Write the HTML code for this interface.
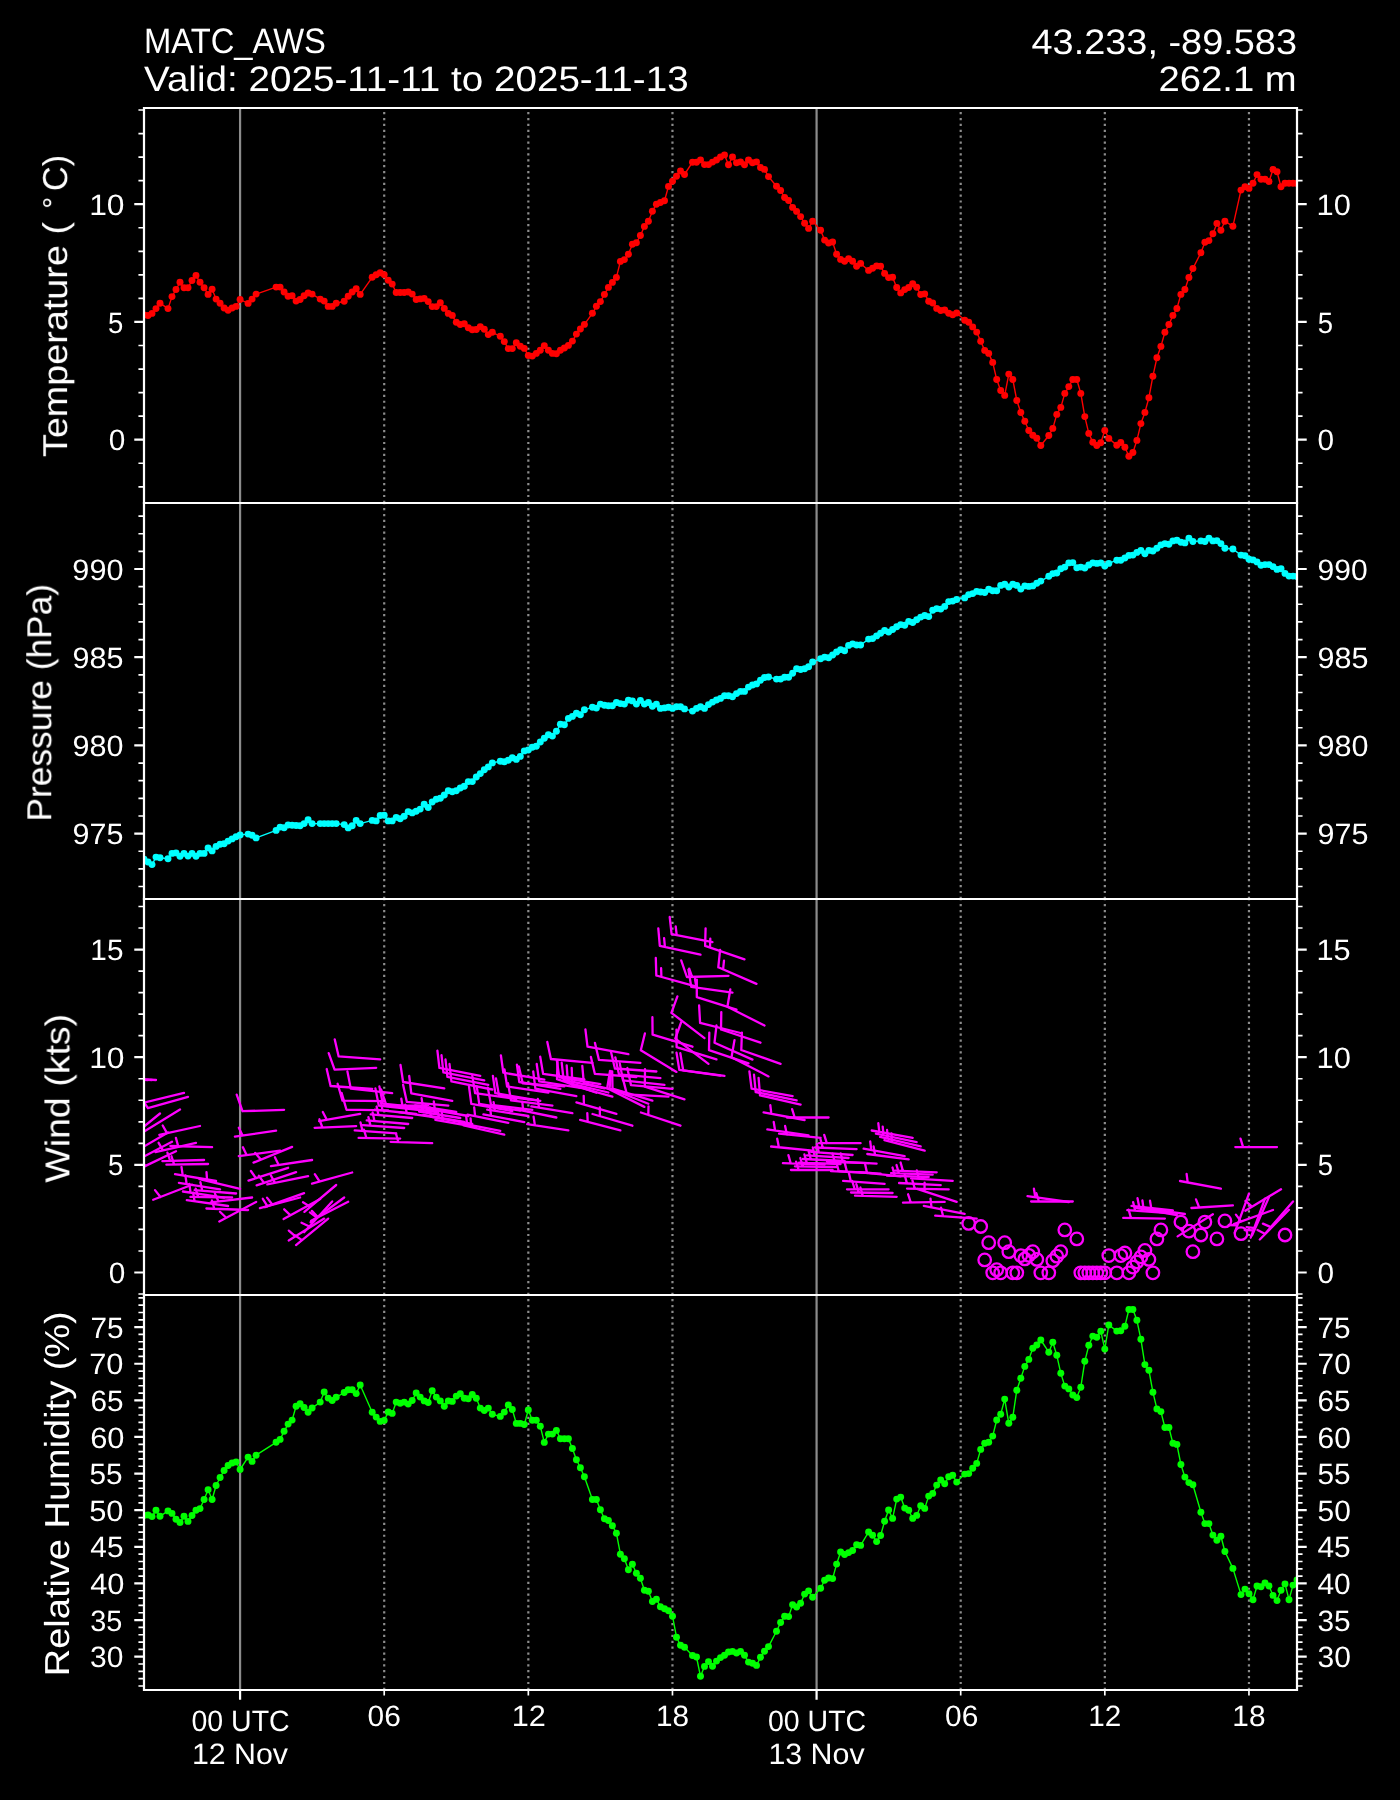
<!DOCTYPE html><html><head><meta charset="utf-8"><title>MATC_AWS meteogram</title><style>html,body{margin:0;padding:0;background:#000;width:1400px;height:1800px;overflow:hidden}svg{display:block}text{text-rendering:geometricPrecision}</style></head><body><svg width="1400" height="1800" viewBox="0 0 1400 1800">
<rect width="1400" height="1800" fill="#000"/>
<defs>
<clipPath id="c0"><rect x="144.0" y="108" width="1153.0" height="395"/></clipPath>
<clipPath id="c1"><rect x="144.0" y="503" width="1153.0" height="396"/></clipPath>
<clipPath id="c2"><rect x="144.0" y="899" width="1153.0" height="396"/></clipPath>
<clipPath id="c3"><rect x="144.0" y="1295" width="1153.0" height="395"/></clipPath>
</defs>
<g><line x1="240.08" y1="503" x2="240.08" y2="108" stroke="#8c8c8c" stroke-width="2.2"/><line x1="816.58" y1="503" x2="816.58" y2="108" stroke="#8c8c8c" stroke-width="2.2"/><line x1="384.21" y1="503" x2="384.21" y2="108" stroke="#8c8c8c" stroke-width="2.2" stroke-dasharray="2.22 3.67"/><line x1="528.33" y1="503" x2="528.33" y2="108" stroke="#8c8c8c" stroke-width="2.2" stroke-dasharray="2.22 3.67"/><line x1="672.46" y1="503" x2="672.46" y2="108" stroke="#8c8c8c" stroke-width="2.2" stroke-dasharray="2.22 3.67"/><line x1="960.71" y1="503" x2="960.71" y2="108" stroke="#8c8c8c" stroke-width="2.2" stroke-dasharray="2.22 3.67"/><line x1="1104.83" y1="503" x2="1104.83" y2="108" stroke="#8c8c8c" stroke-width="2.2" stroke-dasharray="2.22 3.67"/><line x1="1248.96" y1="503" x2="1248.96" y2="108" stroke="#8c8c8c" stroke-width="2.2" stroke-dasharray="2.22 3.67"/></g>
<g><line x1="240.08" y1="899" x2="240.08" y2="503" stroke="#8c8c8c" stroke-width="2.2"/><line x1="816.58" y1="899" x2="816.58" y2="503" stroke="#8c8c8c" stroke-width="2.2"/><line x1="384.21" y1="899" x2="384.21" y2="503" stroke="#8c8c8c" stroke-width="2.2" stroke-dasharray="2.22 3.67"/><line x1="528.33" y1="899" x2="528.33" y2="503" stroke="#8c8c8c" stroke-width="2.2" stroke-dasharray="2.22 3.67"/><line x1="672.46" y1="899" x2="672.46" y2="503" stroke="#8c8c8c" stroke-width="2.2" stroke-dasharray="2.22 3.67"/><line x1="960.71" y1="899" x2="960.71" y2="503" stroke="#8c8c8c" stroke-width="2.2" stroke-dasharray="2.22 3.67"/><line x1="1104.83" y1="899" x2="1104.83" y2="503" stroke="#8c8c8c" stroke-width="2.2" stroke-dasharray="2.22 3.67"/><line x1="1248.96" y1="899" x2="1248.96" y2="503" stroke="#8c8c8c" stroke-width="2.2" stroke-dasharray="2.22 3.67"/></g>
<g><line x1="240.08" y1="1295" x2="240.08" y2="899" stroke="#8c8c8c" stroke-width="2.2"/><line x1="816.58" y1="1295" x2="816.58" y2="899" stroke="#8c8c8c" stroke-width="2.2"/><line x1="384.21" y1="1295" x2="384.21" y2="899" stroke="#8c8c8c" stroke-width="2.2" stroke-dasharray="2.22 3.67"/><line x1="528.33" y1="1295" x2="528.33" y2="899" stroke="#8c8c8c" stroke-width="2.2" stroke-dasharray="2.22 3.67"/><line x1="672.46" y1="1295" x2="672.46" y2="899" stroke="#8c8c8c" stroke-width="2.2" stroke-dasharray="2.22 3.67"/><line x1="960.71" y1="1295" x2="960.71" y2="899" stroke="#8c8c8c" stroke-width="2.2" stroke-dasharray="2.22 3.67"/><line x1="1104.83" y1="1295" x2="1104.83" y2="899" stroke="#8c8c8c" stroke-width="2.2" stroke-dasharray="2.22 3.67"/><line x1="1248.96" y1="1295" x2="1248.96" y2="899" stroke="#8c8c8c" stroke-width="2.2" stroke-dasharray="2.22 3.67"/></g>
<g><line x1="240.08" y1="1690" x2="240.08" y2="1295" stroke="#8c8c8c" stroke-width="2.2"/><line x1="816.58" y1="1690" x2="816.58" y2="1295" stroke="#8c8c8c" stroke-width="2.2"/><line x1="384.21" y1="1690" x2="384.21" y2="1295" stroke="#8c8c8c" stroke-width="2.2" stroke-dasharray="2.22 3.67"/><line x1="528.33" y1="1690" x2="528.33" y2="1295" stroke="#8c8c8c" stroke-width="2.2" stroke-dasharray="2.22 3.67"/><line x1="672.46" y1="1690" x2="672.46" y2="1295" stroke="#8c8c8c" stroke-width="2.2" stroke-dasharray="2.22 3.67"/><line x1="960.71" y1="1690" x2="960.71" y2="1295" stroke="#8c8c8c" stroke-width="2.2" stroke-dasharray="2.22 3.67"/><line x1="1104.83" y1="1690" x2="1104.83" y2="1295" stroke="#8c8c8c" stroke-width="2.2" stroke-dasharray="2.22 3.67"/><line x1="1248.96" y1="1690" x2="1248.96" y2="1295" stroke="#8c8c8c" stroke-width="2.2" stroke-dasharray="2.22 3.67"/></g>
<g clip-path="url(#c0)">
<path d="M144.0 315.0 L148.0 315.5 L152.0 313.4 L156.0 308.6 L160.0 303.2 L168.0 308.6 L172.0 296.6 L176.0 289.5 L180.0 282.3 L184.0 287.7 L188.0 287.7 L192.0 280.5 L196.0 275.4 L200.0 282.3 L204.1 287.7 L208.1 294.4 L212.1 289.3 L216.1 299.1 L220.1 303.2 L224.1 308.0 L228.1 310.2 L232.1 308.0 L236.1 306.4 L240.1 299.5 L248.1 303.4 L252.1 299.1 L256.1 294.1 L276.1 287.1 L280.1 287.1 L284.1 292.0 L288.1 296.3 L292.1 295.7 L296.1 301.1 L300.1 299.5 L304.1 295.7 L308.1 293.0 L312.1 294.1 L320.2 299.1 L324.2 301.1 L328.2 306.4 L332.2 306.4 L336.2 303.2 L344.2 301.3 L348.2 296.3 L352.2 292.0 L356.2 288.8 L360.2 294.4 L372.2 277.3 L376.2 274.8 L380.2 272.7 L384.2 274.8 L388.2 280.2 L392.2 284.1 L396.2 292.5 L400.2 292.5 L404.2 292.5 L408.2 292.0 L412.2 294.1 L416.2 299.5 L420.2 298.9 L424.2 298.4 L428.2 301.6 L432.2 306.6 L436.3 306.6 L440.3 302.7 L444.3 308.4 L448.3 313.4 L452.3 315.4 L456.3 322.3 L460.3 324.5 L464.3 323.7 L468.3 327.7 L472.3 329.8 L476.3 329.5 L480.3 326.6 L484.3 329.3 L488.3 334.6 L492.3 332.3 L500.3 336.3 L504.3 341.6 L508.3 348.6 L512.3 348.6 L516.3 342.7 L520.3 346.2 L524.3 348.4 L528.3 355.5 L532.3 356.1 L536.3 353.4 L540.3 350.2 L544.3 345.6 L548.4 350.2 L552.4 353.4 L556.4 353.7 L560.4 350.2 L564.4 348.0 L568.4 345.4 L572.4 341.1 L576.4 334.1 L580.4 329.0 L584.4 324.4 L592.4 313.3 L596.4 306.3 L600.4 301.6 L604.4 294.4 L608.4 287.4 L612.4 282.4 L616.4 277.4 L620.4 261.4 L624.4 259.6 L628.4 254.2 L632.4 244.2 L636.4 242.7 L640.4 235.5 L644.4 226.4 L648.4 221.2 L652.4 211.2 L656.4 204.2 L660.4 202.5 L664.5 200.7 L668.5 186.4 L672.5 181.3 L676.5 176.2 L680.5 171.0 L684.5 174.5 L692.5 162.2 L696.5 162.2 L700.5 159.9 L704.5 164.6 L708.5 164.6 L712.5 162.1 L716.5 160.0 L720.5 157.0 L724.5 154.9 L728.5 164.8 L732.5 157.0 L736.5 162.7 L740.5 161.9 L744.5 164.8 L748.5 160.0 L752.5 162.7 L756.5 161.9 L760.5 167.5 L764.5 169.4 L768.5 176.6 L776.5 186.3 L780.6 190.5 L784.6 197.5 L788.6 200.5 L792.6 207.4 L796.6 211.4 L800.6 216.6 L804.6 223.2 L808.6 228.4 L812.6 221.3 L820.6 230.2 L824.6 240.1 L828.6 243.0 L832.6 242.0 L836.6 254.3 L840.6 259.4 L844.6 261.3 L848.6 258.6 L852.6 261.3 L856.6 266.3 L860.6 263.4 L868.6 270.4 L872.6 268.2 L876.6 265.9 L880.6 266.3 L884.6 273.4 L888.6 277.6 L892.6 277.3 L896.7 287.5 L900.7 292.9 L904.7 289.6 L908.7 287.5 L912.7 283.8 L916.7 287.3 L920.7 294.5 L924.7 293.9 L928.7 301.2 L932.7 303.0 L936.7 308.4 L940.7 310.5 L944.7 310.0 L948.7 313.2 L952.7 314.8 L956.7 313.0 L964.7 320.2 L968.7 322.3 L972.7 326.9 L976.7 332.1 L980.7 341.3 L984.7 350.4 L988.7 353.4 L992.7 362.4 L996.7 379.5 L1000.7 390.5 L1004.7 395.4 L1008.8 374.1 L1012.8 379.5 L1016.8 400.5 L1020.8 412.5 L1024.8 421.3 L1028.8 430.5 L1032.8 435.2 L1036.8 438.2 L1040.8 445.5 L1048.8 435.5 L1052.8 428.4 L1056.8 414.4 L1060.8 407.4 L1064.8 393.4 L1068.8 386.6 L1072.8 379.5 L1076.8 379.5 L1080.8 393.4 L1084.8 416.6 L1088.8 433.4 L1092.8 442.3 L1096.8 445.5 L1100.8 442.7 L1104.8 430.5 L1108.8 438.4 L1116.8 445.2 L1120.8 442.5 L1124.9 447.3 L1128.9 456.3 L1132.9 452.5 L1136.9 440.4 L1140.9 423.6 L1144.9 412.4 L1148.9 397.7 L1152.9 376.2 L1156.9 357.8 L1160.9 346.4 L1164.9 332.3 L1168.9 324.5 L1172.9 315.4 L1176.9 308.5 L1180.9 294.4 L1184.9 289.5 L1188.9 277.5 L1192.9 268.5 L1200.9 252.7 L1204.9 242.3 L1208.9 240.6 L1212.9 233.7 L1216.9 223.4 L1220.9 230.3 L1224.9 221.2 L1232.9 226.3 L1241.0 190.1 L1245.0 186.7 L1249.0 188.4 L1253.0 183.3 L1257.0 174.6 L1261.0 179.3 L1265.0 179.3 L1269.0 181.5 L1273.0 169.5 L1277.0 171.7 L1281.0 186.7 L1285.0 183.3 L1289.0 183.3 L1293.0 183.3 L1297.0 183.4" fill="none" stroke="#ff0000" stroke-width="1.39" stroke-linejoin="round"/>
<g fill="#ff0000"><circle cx="144.0" cy="315.0" r="3.47"/><circle cx="148.0" cy="315.5" r="3.47"/><circle cx="152.0" cy="313.4" r="3.47"/><circle cx="156.0" cy="308.6" r="3.47"/><circle cx="160.0" cy="303.2" r="3.47"/><circle cx="168.0" cy="308.6" r="3.47"/><circle cx="172.0" cy="296.6" r="3.47"/><circle cx="176.0" cy="289.5" r="3.47"/><circle cx="180.0" cy="282.3" r="3.47"/><circle cx="184.0" cy="287.7" r="3.47"/><circle cx="188.0" cy="287.7" r="3.47"/><circle cx="192.0" cy="280.5" r="3.47"/><circle cx="196.0" cy="275.4" r="3.47"/><circle cx="200.0" cy="282.3" r="3.47"/><circle cx="204.1" cy="287.7" r="3.47"/><circle cx="208.1" cy="294.4" r="3.47"/><circle cx="212.1" cy="289.3" r="3.47"/><circle cx="216.1" cy="299.1" r="3.47"/><circle cx="220.1" cy="303.2" r="3.47"/><circle cx="224.1" cy="308.0" r="3.47"/><circle cx="228.1" cy="310.2" r="3.47"/><circle cx="232.1" cy="308.0" r="3.47"/><circle cx="236.1" cy="306.4" r="3.47"/><circle cx="240.1" cy="299.5" r="3.47"/><circle cx="248.1" cy="303.4" r="3.47"/><circle cx="252.1" cy="299.1" r="3.47"/><circle cx="256.1" cy="294.1" r="3.47"/><circle cx="276.1" cy="287.1" r="3.47"/><circle cx="280.1" cy="287.1" r="3.47"/><circle cx="284.1" cy="292.0" r="3.47"/><circle cx="288.1" cy="296.3" r="3.47"/><circle cx="292.1" cy="295.7" r="3.47"/><circle cx="296.1" cy="301.1" r="3.47"/><circle cx="300.1" cy="299.5" r="3.47"/><circle cx="304.1" cy="295.7" r="3.47"/><circle cx="308.1" cy="293.0" r="3.47"/><circle cx="312.1" cy="294.1" r="3.47"/><circle cx="320.2" cy="299.1" r="3.47"/><circle cx="324.2" cy="301.1" r="3.47"/><circle cx="328.2" cy="306.4" r="3.47"/><circle cx="332.2" cy="306.4" r="3.47"/><circle cx="336.2" cy="303.2" r="3.47"/><circle cx="344.2" cy="301.3" r="3.47"/><circle cx="348.2" cy="296.3" r="3.47"/><circle cx="352.2" cy="292.0" r="3.47"/><circle cx="356.2" cy="288.8" r="3.47"/><circle cx="360.2" cy="294.4" r="3.47"/><circle cx="372.2" cy="277.3" r="3.47"/><circle cx="376.2" cy="274.8" r="3.47"/><circle cx="380.2" cy="272.7" r="3.47"/><circle cx="384.2" cy="274.8" r="3.47"/><circle cx="388.2" cy="280.2" r="3.47"/><circle cx="392.2" cy="284.1" r="3.47"/><circle cx="396.2" cy="292.5" r="3.47"/><circle cx="400.2" cy="292.5" r="3.47"/><circle cx="404.2" cy="292.5" r="3.47"/><circle cx="408.2" cy="292.0" r="3.47"/><circle cx="412.2" cy="294.1" r="3.47"/><circle cx="416.2" cy="299.5" r="3.47"/><circle cx="420.2" cy="298.9" r="3.47"/><circle cx="424.2" cy="298.4" r="3.47"/><circle cx="428.2" cy="301.6" r="3.47"/><circle cx="432.2" cy="306.6" r="3.47"/><circle cx="436.3" cy="306.6" r="3.47"/><circle cx="440.3" cy="302.7" r="3.47"/><circle cx="444.3" cy="308.4" r="3.47"/><circle cx="448.3" cy="313.4" r="3.47"/><circle cx="452.3" cy="315.4" r="3.47"/><circle cx="456.3" cy="322.3" r="3.47"/><circle cx="460.3" cy="324.5" r="3.47"/><circle cx="464.3" cy="323.7" r="3.47"/><circle cx="468.3" cy="327.7" r="3.47"/><circle cx="472.3" cy="329.8" r="3.47"/><circle cx="476.3" cy="329.5" r="3.47"/><circle cx="480.3" cy="326.6" r="3.47"/><circle cx="484.3" cy="329.3" r="3.47"/><circle cx="488.3" cy="334.6" r="3.47"/><circle cx="492.3" cy="332.3" r="3.47"/><circle cx="500.3" cy="336.3" r="3.47"/><circle cx="504.3" cy="341.6" r="3.47"/><circle cx="508.3" cy="348.6" r="3.47"/><circle cx="512.3" cy="348.6" r="3.47"/><circle cx="516.3" cy="342.7" r="3.47"/><circle cx="520.3" cy="346.2" r="3.47"/><circle cx="524.3" cy="348.4" r="3.47"/><circle cx="528.3" cy="355.5" r="3.47"/><circle cx="532.3" cy="356.1" r="3.47"/><circle cx="536.3" cy="353.4" r="3.47"/><circle cx="540.3" cy="350.2" r="3.47"/><circle cx="544.3" cy="345.6" r="3.47"/><circle cx="548.4" cy="350.2" r="3.47"/><circle cx="552.4" cy="353.4" r="3.47"/><circle cx="556.4" cy="353.7" r="3.47"/><circle cx="560.4" cy="350.2" r="3.47"/><circle cx="564.4" cy="348.0" r="3.47"/><circle cx="568.4" cy="345.4" r="3.47"/><circle cx="572.4" cy="341.1" r="3.47"/><circle cx="576.4" cy="334.1" r="3.47"/><circle cx="580.4" cy="329.0" r="3.47"/><circle cx="584.4" cy="324.4" r="3.47"/><circle cx="592.4" cy="313.3" r="3.47"/><circle cx="596.4" cy="306.3" r="3.47"/><circle cx="600.4" cy="301.6" r="3.47"/><circle cx="604.4" cy="294.4" r="3.47"/><circle cx="608.4" cy="287.4" r="3.47"/><circle cx="612.4" cy="282.4" r="3.47"/><circle cx="616.4" cy="277.4" r="3.47"/><circle cx="620.4" cy="261.4" r="3.47"/><circle cx="624.4" cy="259.6" r="3.47"/><circle cx="628.4" cy="254.2" r="3.47"/><circle cx="632.4" cy="244.2" r="3.47"/><circle cx="636.4" cy="242.7" r="3.47"/><circle cx="640.4" cy="235.5" r="3.47"/><circle cx="644.4" cy="226.4" r="3.47"/><circle cx="648.4" cy="221.2" r="3.47"/><circle cx="652.4" cy="211.2" r="3.47"/><circle cx="656.4" cy="204.2" r="3.47"/><circle cx="660.4" cy="202.5" r="3.47"/><circle cx="664.5" cy="200.7" r="3.47"/><circle cx="668.5" cy="186.4" r="3.47"/><circle cx="672.5" cy="181.3" r="3.47"/><circle cx="676.5" cy="176.2" r="3.47"/><circle cx="680.5" cy="171.0" r="3.47"/><circle cx="684.5" cy="174.5" r="3.47"/><circle cx="692.5" cy="162.2" r="3.47"/><circle cx="696.5" cy="162.2" r="3.47"/><circle cx="700.5" cy="159.9" r="3.47"/><circle cx="704.5" cy="164.6" r="3.47"/><circle cx="708.5" cy="164.6" r="3.47"/><circle cx="712.5" cy="162.1" r="3.47"/><circle cx="716.5" cy="160.0" r="3.47"/><circle cx="720.5" cy="157.0" r="3.47"/><circle cx="724.5" cy="154.9" r="3.47"/><circle cx="728.5" cy="164.8" r="3.47"/><circle cx="732.5" cy="157.0" r="3.47"/><circle cx="736.5" cy="162.7" r="3.47"/><circle cx="740.5" cy="161.9" r="3.47"/><circle cx="744.5" cy="164.8" r="3.47"/><circle cx="748.5" cy="160.0" r="3.47"/><circle cx="752.5" cy="162.7" r="3.47"/><circle cx="756.5" cy="161.9" r="3.47"/><circle cx="760.5" cy="167.5" r="3.47"/><circle cx="764.5" cy="169.4" r="3.47"/><circle cx="768.5" cy="176.6" r="3.47"/><circle cx="776.5" cy="186.3" r="3.47"/><circle cx="780.6" cy="190.5" r="3.47"/><circle cx="784.6" cy="197.5" r="3.47"/><circle cx="788.6" cy="200.5" r="3.47"/><circle cx="792.6" cy="207.4" r="3.47"/><circle cx="796.6" cy="211.4" r="3.47"/><circle cx="800.6" cy="216.6" r="3.47"/><circle cx="804.6" cy="223.2" r="3.47"/><circle cx="808.6" cy="228.4" r="3.47"/><circle cx="812.6" cy="221.3" r="3.47"/><circle cx="820.6" cy="230.2" r="3.47"/><circle cx="824.6" cy="240.1" r="3.47"/><circle cx="828.6" cy="243.0" r="3.47"/><circle cx="832.6" cy="242.0" r="3.47"/><circle cx="836.6" cy="254.3" r="3.47"/><circle cx="840.6" cy="259.4" r="3.47"/><circle cx="844.6" cy="261.3" r="3.47"/><circle cx="848.6" cy="258.6" r="3.47"/><circle cx="852.6" cy="261.3" r="3.47"/><circle cx="856.6" cy="266.3" r="3.47"/><circle cx="860.6" cy="263.4" r="3.47"/><circle cx="868.6" cy="270.4" r="3.47"/><circle cx="872.6" cy="268.2" r="3.47"/><circle cx="876.6" cy="265.9" r="3.47"/><circle cx="880.6" cy="266.3" r="3.47"/><circle cx="884.6" cy="273.4" r="3.47"/><circle cx="888.6" cy="277.6" r="3.47"/><circle cx="892.6" cy="277.3" r="3.47"/><circle cx="896.7" cy="287.5" r="3.47"/><circle cx="900.7" cy="292.9" r="3.47"/><circle cx="904.7" cy="289.6" r="3.47"/><circle cx="908.7" cy="287.5" r="3.47"/><circle cx="912.7" cy="283.8" r="3.47"/><circle cx="916.7" cy="287.3" r="3.47"/><circle cx="920.7" cy="294.5" r="3.47"/><circle cx="924.7" cy="293.9" r="3.47"/><circle cx="928.7" cy="301.2" r="3.47"/><circle cx="932.7" cy="303.0" r="3.47"/><circle cx="936.7" cy="308.4" r="3.47"/><circle cx="940.7" cy="310.5" r="3.47"/><circle cx="944.7" cy="310.0" r="3.47"/><circle cx="948.7" cy="313.2" r="3.47"/><circle cx="952.7" cy="314.8" r="3.47"/><circle cx="956.7" cy="313.0" r="3.47"/><circle cx="964.7" cy="320.2" r="3.47"/><circle cx="968.7" cy="322.3" r="3.47"/><circle cx="972.7" cy="326.9" r="3.47"/><circle cx="976.7" cy="332.1" r="3.47"/><circle cx="980.7" cy="341.3" r="3.47"/><circle cx="984.7" cy="350.4" r="3.47"/><circle cx="988.7" cy="353.4" r="3.47"/><circle cx="992.7" cy="362.4" r="3.47"/><circle cx="996.7" cy="379.5" r="3.47"/><circle cx="1000.7" cy="390.5" r="3.47"/><circle cx="1004.7" cy="395.4" r="3.47"/><circle cx="1008.8" cy="374.1" r="3.47"/><circle cx="1012.8" cy="379.5" r="3.47"/><circle cx="1016.8" cy="400.5" r="3.47"/><circle cx="1020.8" cy="412.5" r="3.47"/><circle cx="1024.8" cy="421.3" r="3.47"/><circle cx="1028.8" cy="430.5" r="3.47"/><circle cx="1032.8" cy="435.2" r="3.47"/><circle cx="1036.8" cy="438.2" r="3.47"/><circle cx="1040.8" cy="445.5" r="3.47"/><circle cx="1048.8" cy="435.5" r="3.47"/><circle cx="1052.8" cy="428.4" r="3.47"/><circle cx="1056.8" cy="414.4" r="3.47"/><circle cx="1060.8" cy="407.4" r="3.47"/><circle cx="1064.8" cy="393.4" r="3.47"/><circle cx="1068.8" cy="386.6" r="3.47"/><circle cx="1072.8" cy="379.5" r="3.47"/><circle cx="1076.8" cy="379.5" r="3.47"/><circle cx="1080.8" cy="393.4" r="3.47"/><circle cx="1084.8" cy="416.6" r="3.47"/><circle cx="1088.8" cy="433.4" r="3.47"/><circle cx="1092.8" cy="442.3" r="3.47"/><circle cx="1096.8" cy="445.5" r="3.47"/><circle cx="1100.8" cy="442.7" r="3.47"/><circle cx="1104.8" cy="430.5" r="3.47"/><circle cx="1108.8" cy="438.4" r="3.47"/><circle cx="1116.8" cy="445.2" r="3.47"/><circle cx="1120.8" cy="442.5" r="3.47"/><circle cx="1124.9" cy="447.3" r="3.47"/><circle cx="1128.9" cy="456.3" r="3.47"/><circle cx="1132.9" cy="452.5" r="3.47"/><circle cx="1136.9" cy="440.4" r="3.47"/><circle cx="1140.9" cy="423.6" r="3.47"/><circle cx="1144.9" cy="412.4" r="3.47"/><circle cx="1148.9" cy="397.7" r="3.47"/><circle cx="1152.9" cy="376.2" r="3.47"/><circle cx="1156.9" cy="357.8" r="3.47"/><circle cx="1160.9" cy="346.4" r="3.47"/><circle cx="1164.9" cy="332.3" r="3.47"/><circle cx="1168.9" cy="324.5" r="3.47"/><circle cx="1172.9" cy="315.4" r="3.47"/><circle cx="1176.9" cy="308.5" r="3.47"/><circle cx="1180.9" cy="294.4" r="3.47"/><circle cx="1184.9" cy="289.5" r="3.47"/><circle cx="1188.9" cy="277.5" r="3.47"/><circle cx="1192.9" cy="268.5" r="3.47"/><circle cx="1200.9" cy="252.7" r="3.47"/><circle cx="1204.9" cy="242.3" r="3.47"/><circle cx="1208.9" cy="240.6" r="3.47"/><circle cx="1212.9" cy="233.7" r="3.47"/><circle cx="1216.9" cy="223.4" r="3.47"/><circle cx="1220.9" cy="230.3" r="3.47"/><circle cx="1224.9" cy="221.2" r="3.47"/><circle cx="1232.9" cy="226.3" r="3.47"/><circle cx="1241.0" cy="190.1" r="3.47"/><circle cx="1245.0" cy="186.7" r="3.47"/><circle cx="1249.0" cy="188.4" r="3.47"/><circle cx="1253.0" cy="183.3" r="3.47"/><circle cx="1257.0" cy="174.6" r="3.47"/><circle cx="1261.0" cy="179.3" r="3.47"/><circle cx="1265.0" cy="179.3" r="3.47"/><circle cx="1269.0" cy="181.5" r="3.47"/><circle cx="1273.0" cy="169.5" r="3.47"/><circle cx="1277.0" cy="171.7" r="3.47"/><circle cx="1281.0" cy="186.7" r="3.47"/><circle cx="1285.0" cy="183.3" r="3.47"/><circle cx="1289.0" cy="183.3" r="3.47"/><circle cx="1293.0" cy="183.3" r="3.47"/><circle cx="1297.0" cy="183.4" r="3.47"/></g>
</g>
<g clip-path="url(#c1)">
<path d="M144.0 859.3 L148.0 862.0 L152.0 864.6 L156.0 857.1 L160.0 857.7 L168.0 858.8 L172.0 853.4 L176.0 852.9 L180.0 856.3 L184.0 853.4 L188.0 856.1 L192.0 853.4 L196.0 856.3 L200.0 853.4 L204.1 853.4 L208.1 848.0 L212.1 850.9 L216.1 846.4 L220.1 844.3 L224.1 843.8 L228.1 841.1 L232.1 838.9 L236.1 836.8 L240.1 834.9 L248.1 834.1 L252.1 835.2 L256.1 837.9 L276.1 830.4 L280.1 827.1 L284.1 827.7 L288.1 825.0 L292.1 825.2 L296.1 825.5 L300.1 825.7 L304.1 823.6 L308.1 819.8 L312.1 823.6 L320.2 823.6 L324.2 823.6 L328.2 823.6 L332.2 823.6 L336.2 823.6 L344.2 824.6 L348.2 827.9 L352.2 825.7 L356.2 820.4 L360.2 823.6 L372.2 820.4 L376.2 820.9 L380.2 815.5 L384.2 815.2 L388.2 820.9 L392.2 820.9 L396.2 817.4 L400.2 818.8 L404.2 816.3 L408.2 811.6 L412.2 812.9 L416.2 811.3 L420.2 809.1 L424.2 804.3 L428.2 807.5 L432.2 802.0 L436.3 799.3 L440.3 798.2 L444.3 795.0 L448.3 790.7 L452.3 791.8 L456.3 790.7 L460.3 788.0 L464.3 786.2 L468.3 781.6 L472.3 781.6 L476.3 777.0 L480.3 773.6 L484.3 769.8 L488.3 766.9 L492.3 762.9 L500.3 761.3 L504.3 761.8 L508.3 760.2 L512.3 757.7 L516.3 759.4 L520.3 756.4 L524.3 750.9 L528.3 750.0 L532.3 747.3 L536.3 746.3 L540.3 742.0 L544.3 738.2 L548.4 734.8 L552.4 736.1 L556.4 731.3 L560.4 724.3 L564.4 724.8 L568.4 718.4 L572.4 716.4 L576.4 713.2 L580.4 714.8 L584.4 709.8 L592.4 707.3 L596.4 708.1 L600.4 704.1 L604.4 705.2 L608.4 705.7 L612.4 705.7 L616.4 702.5 L620.4 703.6 L624.4 704.1 L628.4 700.1 L632.4 700.9 L636.4 704.1 L640.4 700.4 L644.4 704.1 L648.4 702.5 L652.4 706.3 L656.4 704.1 L660.4 708.4 L664.5 707.9 L668.5 707.3 L672.5 708.4 L676.5 706.8 L680.5 706.8 L684.5 708.9 L692.5 711.1 L696.5 708.4 L700.5 706.8 L704.5 708.4 L708.5 704.6 L712.5 702.1 L716.5 700.0 L720.5 698.4 L724.5 695.7 L728.5 695.7 L732.5 696.8 L736.5 693.6 L740.5 691.4 L744.5 691.4 L748.5 687.1 L752.5 685.0 L756.5 683.9 L760.5 680.2 L764.5 677.5 L768.5 677.0 L776.5 679.1 L780.6 679.1 L784.6 677.3 L788.6 677.3 L792.6 673.2 L796.6 668.7 L800.6 669.5 L804.6 668.7 L808.6 666.8 L812.6 662.0 L820.6 658.8 L824.6 657.1 L828.6 657.7 L832.6 655.0 L836.6 652.0 L840.6 649.6 L844.6 650.7 L848.6 645.4 L852.6 643.9 L856.6 645.0 L860.6 645.0 L868.6 639.1 L872.6 638.6 L876.6 635.9 L880.6 633.2 L884.6 630.5 L888.6 632.1 L892.6 629.5 L896.7 626.8 L900.7 624.6 L904.7 625.2 L908.7 621.4 L912.7 622.5 L916.7 619.8 L920.7 617.1 L924.7 615.5 L928.7 616.6 L932.7 610.2 L936.7 608.6 L940.7 609.1 L944.7 606.4 L948.7 601.6 L952.7 601.1 L956.7 599.5 L964.7 597.9 L968.7 594.6 L972.7 593.6 L976.7 591.4 L980.7 592.0 L984.7 592.5 L988.7 589.3 L992.7 590.7 L996.7 590.7 L1000.7 585.4 L1004.7 584.3 L1008.8 587.0 L1012.8 584.3 L1016.8 585.4 L1020.8 589.1 L1024.8 585.9 L1028.8 586.4 L1032.8 585.9 L1036.8 583.2 L1040.8 581.1 L1048.8 576.3 L1052.8 573.6 L1056.8 573.0 L1060.8 568.8 L1064.8 567.1 L1068.8 562.9 L1072.8 562.6 L1076.8 567.7 L1080.8 567.1 L1084.8 568.0 L1088.8 565.0 L1092.8 562.9 L1096.8 563.4 L1100.8 562.9 L1104.8 566.1 L1108.8 563.4 L1116.8 560.2 L1120.8 560.2 L1124.9 558.0 L1128.9 555.4 L1132.9 555.1 L1136.9 552.4 L1140.9 550.4 L1144.9 553.8 L1148.9 550.4 L1152.9 551.0 L1156.9 548.3 L1160.9 544.9 L1164.9 543.6 L1168.9 544.3 L1172.9 540.9 L1176.9 540.2 L1180.9 542.2 L1184.9 542.9 L1188.9 538.1 L1192.9 541.5 L1200.9 540.9 L1204.9 541.5 L1208.9 538.1 L1212.9 540.9 L1216.9 540.6 L1220.9 543.6 L1224.9 548.3 L1232.9 549.0 L1241.0 555.1 L1245.0 555.8 L1249.0 559.2 L1253.0 559.9 L1257.0 561.9 L1261.0 565.3 L1265.0 564.6 L1269.0 564.6 L1273.0 566.6 L1277.0 569.4 L1281.0 568.7 L1285.0 573.4 L1289.0 576.1 L1293.0 576.1 L1297.0 576.5" fill="none" stroke="#00ffff" stroke-width="1.39" stroke-linejoin="round"/>
<g fill="#00ffff"><circle cx="144.0" cy="859.3" r="3.47"/><circle cx="148.0" cy="862.0" r="3.47"/><circle cx="152.0" cy="864.6" r="3.47"/><circle cx="156.0" cy="857.1" r="3.47"/><circle cx="160.0" cy="857.7" r="3.47"/><circle cx="168.0" cy="858.8" r="3.47"/><circle cx="172.0" cy="853.4" r="3.47"/><circle cx="176.0" cy="852.9" r="3.47"/><circle cx="180.0" cy="856.3" r="3.47"/><circle cx="184.0" cy="853.4" r="3.47"/><circle cx="188.0" cy="856.1" r="3.47"/><circle cx="192.0" cy="853.4" r="3.47"/><circle cx="196.0" cy="856.3" r="3.47"/><circle cx="200.0" cy="853.4" r="3.47"/><circle cx="204.1" cy="853.4" r="3.47"/><circle cx="208.1" cy="848.0" r="3.47"/><circle cx="212.1" cy="850.9" r="3.47"/><circle cx="216.1" cy="846.4" r="3.47"/><circle cx="220.1" cy="844.3" r="3.47"/><circle cx="224.1" cy="843.8" r="3.47"/><circle cx="228.1" cy="841.1" r="3.47"/><circle cx="232.1" cy="838.9" r="3.47"/><circle cx="236.1" cy="836.8" r="3.47"/><circle cx="240.1" cy="834.9" r="3.47"/><circle cx="248.1" cy="834.1" r="3.47"/><circle cx="252.1" cy="835.2" r="3.47"/><circle cx="256.1" cy="837.9" r="3.47"/><circle cx="276.1" cy="830.4" r="3.47"/><circle cx="280.1" cy="827.1" r="3.47"/><circle cx="284.1" cy="827.7" r="3.47"/><circle cx="288.1" cy="825.0" r="3.47"/><circle cx="292.1" cy="825.2" r="3.47"/><circle cx="296.1" cy="825.5" r="3.47"/><circle cx="300.1" cy="825.7" r="3.47"/><circle cx="304.1" cy="823.6" r="3.47"/><circle cx="308.1" cy="819.8" r="3.47"/><circle cx="312.1" cy="823.6" r="3.47"/><circle cx="320.2" cy="823.6" r="3.47"/><circle cx="324.2" cy="823.6" r="3.47"/><circle cx="328.2" cy="823.6" r="3.47"/><circle cx="332.2" cy="823.6" r="3.47"/><circle cx="336.2" cy="823.6" r="3.47"/><circle cx="344.2" cy="824.6" r="3.47"/><circle cx="348.2" cy="827.9" r="3.47"/><circle cx="352.2" cy="825.7" r="3.47"/><circle cx="356.2" cy="820.4" r="3.47"/><circle cx="360.2" cy="823.6" r="3.47"/><circle cx="372.2" cy="820.4" r="3.47"/><circle cx="376.2" cy="820.9" r="3.47"/><circle cx="380.2" cy="815.5" r="3.47"/><circle cx="384.2" cy="815.2" r="3.47"/><circle cx="388.2" cy="820.9" r="3.47"/><circle cx="392.2" cy="820.9" r="3.47"/><circle cx="396.2" cy="817.4" r="3.47"/><circle cx="400.2" cy="818.8" r="3.47"/><circle cx="404.2" cy="816.3" r="3.47"/><circle cx="408.2" cy="811.6" r="3.47"/><circle cx="412.2" cy="812.9" r="3.47"/><circle cx="416.2" cy="811.3" r="3.47"/><circle cx="420.2" cy="809.1" r="3.47"/><circle cx="424.2" cy="804.3" r="3.47"/><circle cx="428.2" cy="807.5" r="3.47"/><circle cx="432.2" cy="802.0" r="3.47"/><circle cx="436.3" cy="799.3" r="3.47"/><circle cx="440.3" cy="798.2" r="3.47"/><circle cx="444.3" cy="795.0" r="3.47"/><circle cx="448.3" cy="790.7" r="3.47"/><circle cx="452.3" cy="791.8" r="3.47"/><circle cx="456.3" cy="790.7" r="3.47"/><circle cx="460.3" cy="788.0" r="3.47"/><circle cx="464.3" cy="786.2" r="3.47"/><circle cx="468.3" cy="781.6" r="3.47"/><circle cx="472.3" cy="781.6" r="3.47"/><circle cx="476.3" cy="777.0" r="3.47"/><circle cx="480.3" cy="773.6" r="3.47"/><circle cx="484.3" cy="769.8" r="3.47"/><circle cx="488.3" cy="766.9" r="3.47"/><circle cx="492.3" cy="762.9" r="3.47"/><circle cx="500.3" cy="761.3" r="3.47"/><circle cx="504.3" cy="761.8" r="3.47"/><circle cx="508.3" cy="760.2" r="3.47"/><circle cx="512.3" cy="757.7" r="3.47"/><circle cx="516.3" cy="759.4" r="3.47"/><circle cx="520.3" cy="756.4" r="3.47"/><circle cx="524.3" cy="750.9" r="3.47"/><circle cx="528.3" cy="750.0" r="3.47"/><circle cx="532.3" cy="747.3" r="3.47"/><circle cx="536.3" cy="746.3" r="3.47"/><circle cx="540.3" cy="742.0" r="3.47"/><circle cx="544.3" cy="738.2" r="3.47"/><circle cx="548.4" cy="734.8" r="3.47"/><circle cx="552.4" cy="736.1" r="3.47"/><circle cx="556.4" cy="731.3" r="3.47"/><circle cx="560.4" cy="724.3" r="3.47"/><circle cx="564.4" cy="724.8" r="3.47"/><circle cx="568.4" cy="718.4" r="3.47"/><circle cx="572.4" cy="716.4" r="3.47"/><circle cx="576.4" cy="713.2" r="3.47"/><circle cx="580.4" cy="714.8" r="3.47"/><circle cx="584.4" cy="709.8" r="3.47"/><circle cx="592.4" cy="707.3" r="3.47"/><circle cx="596.4" cy="708.1" r="3.47"/><circle cx="600.4" cy="704.1" r="3.47"/><circle cx="604.4" cy="705.2" r="3.47"/><circle cx="608.4" cy="705.7" r="3.47"/><circle cx="612.4" cy="705.7" r="3.47"/><circle cx="616.4" cy="702.5" r="3.47"/><circle cx="620.4" cy="703.6" r="3.47"/><circle cx="624.4" cy="704.1" r="3.47"/><circle cx="628.4" cy="700.1" r="3.47"/><circle cx="632.4" cy="700.9" r="3.47"/><circle cx="636.4" cy="704.1" r="3.47"/><circle cx="640.4" cy="700.4" r="3.47"/><circle cx="644.4" cy="704.1" r="3.47"/><circle cx="648.4" cy="702.5" r="3.47"/><circle cx="652.4" cy="706.3" r="3.47"/><circle cx="656.4" cy="704.1" r="3.47"/><circle cx="660.4" cy="708.4" r="3.47"/><circle cx="664.5" cy="707.9" r="3.47"/><circle cx="668.5" cy="707.3" r="3.47"/><circle cx="672.5" cy="708.4" r="3.47"/><circle cx="676.5" cy="706.8" r="3.47"/><circle cx="680.5" cy="706.8" r="3.47"/><circle cx="684.5" cy="708.9" r="3.47"/><circle cx="692.5" cy="711.1" r="3.47"/><circle cx="696.5" cy="708.4" r="3.47"/><circle cx="700.5" cy="706.8" r="3.47"/><circle cx="704.5" cy="708.4" r="3.47"/><circle cx="708.5" cy="704.6" r="3.47"/><circle cx="712.5" cy="702.1" r="3.47"/><circle cx="716.5" cy="700.0" r="3.47"/><circle cx="720.5" cy="698.4" r="3.47"/><circle cx="724.5" cy="695.7" r="3.47"/><circle cx="728.5" cy="695.7" r="3.47"/><circle cx="732.5" cy="696.8" r="3.47"/><circle cx="736.5" cy="693.6" r="3.47"/><circle cx="740.5" cy="691.4" r="3.47"/><circle cx="744.5" cy="691.4" r="3.47"/><circle cx="748.5" cy="687.1" r="3.47"/><circle cx="752.5" cy="685.0" r="3.47"/><circle cx="756.5" cy="683.9" r="3.47"/><circle cx="760.5" cy="680.2" r="3.47"/><circle cx="764.5" cy="677.5" r="3.47"/><circle cx="768.5" cy="677.0" r="3.47"/><circle cx="776.5" cy="679.1" r="3.47"/><circle cx="780.6" cy="679.1" r="3.47"/><circle cx="784.6" cy="677.3" r="3.47"/><circle cx="788.6" cy="677.3" r="3.47"/><circle cx="792.6" cy="673.2" r="3.47"/><circle cx="796.6" cy="668.7" r="3.47"/><circle cx="800.6" cy="669.5" r="3.47"/><circle cx="804.6" cy="668.7" r="3.47"/><circle cx="808.6" cy="666.8" r="3.47"/><circle cx="812.6" cy="662.0" r="3.47"/><circle cx="820.6" cy="658.8" r="3.47"/><circle cx="824.6" cy="657.1" r="3.47"/><circle cx="828.6" cy="657.7" r="3.47"/><circle cx="832.6" cy="655.0" r="3.47"/><circle cx="836.6" cy="652.0" r="3.47"/><circle cx="840.6" cy="649.6" r="3.47"/><circle cx="844.6" cy="650.7" r="3.47"/><circle cx="848.6" cy="645.4" r="3.47"/><circle cx="852.6" cy="643.9" r="3.47"/><circle cx="856.6" cy="645.0" r="3.47"/><circle cx="860.6" cy="645.0" r="3.47"/><circle cx="868.6" cy="639.1" r="3.47"/><circle cx="872.6" cy="638.6" r="3.47"/><circle cx="876.6" cy="635.9" r="3.47"/><circle cx="880.6" cy="633.2" r="3.47"/><circle cx="884.6" cy="630.5" r="3.47"/><circle cx="888.6" cy="632.1" r="3.47"/><circle cx="892.6" cy="629.5" r="3.47"/><circle cx="896.7" cy="626.8" r="3.47"/><circle cx="900.7" cy="624.6" r="3.47"/><circle cx="904.7" cy="625.2" r="3.47"/><circle cx="908.7" cy="621.4" r="3.47"/><circle cx="912.7" cy="622.5" r="3.47"/><circle cx="916.7" cy="619.8" r="3.47"/><circle cx="920.7" cy="617.1" r="3.47"/><circle cx="924.7" cy="615.5" r="3.47"/><circle cx="928.7" cy="616.6" r="3.47"/><circle cx="932.7" cy="610.2" r="3.47"/><circle cx="936.7" cy="608.6" r="3.47"/><circle cx="940.7" cy="609.1" r="3.47"/><circle cx="944.7" cy="606.4" r="3.47"/><circle cx="948.7" cy="601.6" r="3.47"/><circle cx="952.7" cy="601.1" r="3.47"/><circle cx="956.7" cy="599.5" r="3.47"/><circle cx="964.7" cy="597.9" r="3.47"/><circle cx="968.7" cy="594.6" r="3.47"/><circle cx="972.7" cy="593.6" r="3.47"/><circle cx="976.7" cy="591.4" r="3.47"/><circle cx="980.7" cy="592.0" r="3.47"/><circle cx="984.7" cy="592.5" r="3.47"/><circle cx="988.7" cy="589.3" r="3.47"/><circle cx="992.7" cy="590.7" r="3.47"/><circle cx="996.7" cy="590.7" r="3.47"/><circle cx="1000.7" cy="585.4" r="3.47"/><circle cx="1004.7" cy="584.3" r="3.47"/><circle cx="1008.8" cy="587.0" r="3.47"/><circle cx="1012.8" cy="584.3" r="3.47"/><circle cx="1016.8" cy="585.4" r="3.47"/><circle cx="1020.8" cy="589.1" r="3.47"/><circle cx="1024.8" cy="585.9" r="3.47"/><circle cx="1028.8" cy="586.4" r="3.47"/><circle cx="1032.8" cy="585.9" r="3.47"/><circle cx="1036.8" cy="583.2" r="3.47"/><circle cx="1040.8" cy="581.1" r="3.47"/><circle cx="1048.8" cy="576.3" r="3.47"/><circle cx="1052.8" cy="573.6" r="3.47"/><circle cx="1056.8" cy="573.0" r="3.47"/><circle cx="1060.8" cy="568.8" r="3.47"/><circle cx="1064.8" cy="567.1" r="3.47"/><circle cx="1068.8" cy="562.9" r="3.47"/><circle cx="1072.8" cy="562.6" r="3.47"/><circle cx="1076.8" cy="567.7" r="3.47"/><circle cx="1080.8" cy="567.1" r="3.47"/><circle cx="1084.8" cy="568.0" r="3.47"/><circle cx="1088.8" cy="565.0" r="3.47"/><circle cx="1092.8" cy="562.9" r="3.47"/><circle cx="1096.8" cy="563.4" r="3.47"/><circle cx="1100.8" cy="562.9" r="3.47"/><circle cx="1104.8" cy="566.1" r="3.47"/><circle cx="1108.8" cy="563.4" r="3.47"/><circle cx="1116.8" cy="560.2" r="3.47"/><circle cx="1120.8" cy="560.2" r="3.47"/><circle cx="1124.9" cy="558.0" r="3.47"/><circle cx="1128.9" cy="555.4" r="3.47"/><circle cx="1132.9" cy="555.1" r="3.47"/><circle cx="1136.9" cy="552.4" r="3.47"/><circle cx="1140.9" cy="550.4" r="3.47"/><circle cx="1144.9" cy="553.8" r="3.47"/><circle cx="1148.9" cy="550.4" r="3.47"/><circle cx="1152.9" cy="551.0" r="3.47"/><circle cx="1156.9" cy="548.3" r="3.47"/><circle cx="1160.9" cy="544.9" r="3.47"/><circle cx="1164.9" cy="543.6" r="3.47"/><circle cx="1168.9" cy="544.3" r="3.47"/><circle cx="1172.9" cy="540.9" r="3.47"/><circle cx="1176.9" cy="540.2" r="3.47"/><circle cx="1180.9" cy="542.2" r="3.47"/><circle cx="1184.9" cy="542.9" r="3.47"/><circle cx="1188.9" cy="538.1" r="3.47"/><circle cx="1192.9" cy="541.5" r="3.47"/><circle cx="1200.9" cy="540.9" r="3.47"/><circle cx="1204.9" cy="541.5" r="3.47"/><circle cx="1208.9" cy="538.1" r="3.47"/><circle cx="1212.9" cy="540.9" r="3.47"/><circle cx="1216.9" cy="540.6" r="3.47"/><circle cx="1220.9" cy="543.6" r="3.47"/><circle cx="1224.9" cy="548.3" r="3.47"/><circle cx="1232.9" cy="549.0" r="3.47"/><circle cx="1241.0" cy="555.1" r="3.47"/><circle cx="1245.0" cy="555.8" r="3.47"/><circle cx="1249.0" cy="559.2" r="3.47"/><circle cx="1253.0" cy="559.9" r="3.47"/><circle cx="1257.0" cy="561.9" r="3.47"/><circle cx="1261.0" cy="565.3" r="3.47"/><circle cx="1265.0" cy="564.6" r="3.47"/><circle cx="1269.0" cy="564.6" r="3.47"/><circle cx="1273.0" cy="566.6" r="3.47"/><circle cx="1277.0" cy="569.4" r="3.47"/><circle cx="1281.0" cy="568.7" r="3.47"/><circle cx="1285.0" cy="573.4" r="3.47"/><circle cx="1289.0" cy="576.1" r="3.47"/><circle cx="1293.0" cy="576.1" r="3.47"/><circle cx="1297.0" cy="576.5" r="3.47"/></g>
</g>
<g clip-path="url(#c3)">
<path d="M144.0 1515.5 L148.0 1515.0 L152.0 1516.6 L156.0 1510.2 L160.0 1516.3 L168.0 1510.9 L172.0 1513.4 L176.0 1519.3 L180.0 1522.5 L184.0 1516.3 L188.0 1521.4 L192.0 1515.5 L196.0 1510.2 L200.0 1508.6 L204.1 1499.5 L208.1 1489.8 L212.1 1499.5 L216.1 1485.5 L220.1 1477.5 L224.1 1470.5 L228.1 1465.5 L232.1 1463.0 L236.1 1462.0 L240.1 1469.5 L248.1 1457.1 L252.1 1461.4 L256.1 1455.2 L276.1 1442.3 L280.1 1439.4 L284.1 1431.3 L288.1 1424.1 L292.1 1420.1 L296.1 1406.2 L300.1 1403.8 L304.1 1407.5 L308.1 1412.3 L312.1 1408.0 L320.2 1402.1 L324.2 1392.0 L328.2 1398.1 L332.2 1400.5 L336.2 1397.3 L344.2 1392.5 L348.2 1389.8 L352.2 1389.8 L356.2 1393.6 L360.2 1385.0 L372.2 1412.3 L376.2 1417.1 L380.2 1421.4 L384.2 1420.4 L388.2 1412.0 L392.2 1413.4 L396.2 1402.1 L400.2 1403.2 L404.2 1402.1 L408.2 1404.1 L412.2 1400.5 L416.2 1393.0 L420.2 1397.1 L424.2 1400.9 L428.2 1402.5 L432.2 1390.7 L436.3 1397.1 L440.3 1400.9 L444.3 1406.3 L448.3 1400.9 L452.3 1401.4 L456.3 1396.1 L460.3 1393.7 L464.3 1398.2 L468.3 1398.8 L472.3 1394.5 L476.3 1398.2 L480.3 1408.1 L484.3 1410.5 L488.3 1408.1 L492.3 1414.3 L500.3 1416.4 L504.3 1412.1 L508.3 1404.9 L512.3 1409.5 L516.3 1423.4 L520.3 1423.4 L524.3 1424.5 L528.3 1410.0 L532.3 1420.2 L536.3 1420.2 L540.3 1426.3 L544.3 1442.4 L548.4 1434.1 L552.4 1434.1 L556.4 1430.4 L560.4 1438.7 L564.4 1438.7 L568.4 1438.7 L572.4 1448.5 L576.4 1459.7 L580.4 1467.7 L584.4 1476.7 L592.4 1499.5 L596.4 1499.5 L600.4 1509.7 L604.4 1518.7 L608.4 1520.5 L612.4 1525.7 L616.4 1533.2 L620.4 1554.2 L624.4 1558.7 L628.4 1569.7 L632.4 1564.3 L636.4 1573.3 L640.4 1578.2 L644.4 1590.2 L648.4 1591.3 L652.4 1601.5 L656.4 1599.2 L660.4 1606.7 L664.5 1608.7 L668.5 1610.8 L672.5 1616.2 L676.5 1637.2 L680.5 1645.3 L684.5 1647.2 L692.5 1655.5 L696.5 1657.0 L700.5 1676.3 L704.5 1666.4 L708.5 1661.6 L712.5 1666.2 L716.5 1661.1 L720.5 1657.6 L724.5 1655.2 L728.5 1652.0 L732.5 1651.4 L736.5 1653.0 L740.5 1651.4 L744.5 1655.2 L748.5 1662.1 L752.5 1663.2 L756.5 1665.4 L760.5 1657.3 L764.5 1651.2 L768.5 1646.6 L776.5 1631.3 L780.6 1622.5 L784.6 1616.3 L788.6 1616.6 L792.6 1604.8 L796.6 1607.0 L800.6 1603.2 L804.6 1594.1 L808.6 1590.9 L812.6 1597.3 L820.6 1588.2 L824.6 1580.2 L828.6 1578.0 L832.6 1578.6 L836.6 1564.1 L840.6 1552.0 L844.6 1554.5 L848.6 1552.6 L852.6 1550.5 L856.6 1544.8 L860.6 1545.4 L868.6 1532.0 L872.6 1535.2 L876.6 1541.6 L880.6 1535.5 L884.6 1521.3 L888.6 1510.0 L892.6 1518.4 L896.7 1499.1 L900.7 1497.1 L904.7 1508.1 L908.7 1510.2 L912.7 1518.4 L916.7 1515.4 L920.7 1505.7 L924.7 1508.4 L928.7 1496.1 L932.7 1493.4 L936.7 1485.1 L940.7 1480.0 L944.7 1483.8 L948.7 1476.8 L952.7 1475.2 L956.7 1482.1 L964.7 1474.1 L968.7 1473.6 L972.7 1468.2 L976.7 1463.4 L980.7 1449.4 L984.7 1443.3 L988.7 1442.2 L992.7 1436.1 L996.7 1420.0 L1000.7 1414.2 L1004.7 1399.1 L1008.8 1423.3 L1012.8 1417.2 L1016.8 1390.2 L1020.8 1378.3 L1024.8 1366.4 L1028.8 1359.4 L1032.8 1348.3 L1036.8 1345.0 L1040.8 1340.0 L1048.8 1352.2 L1052.8 1342.2 L1056.8 1355.3 L1060.8 1373.3 L1064.8 1386.1 L1068.8 1388.9 L1072.8 1395.0 L1076.8 1397.6 L1080.8 1387.2 L1084.8 1361.3 L1088.8 1345.3 L1092.8 1336.1 L1096.8 1337.2 L1100.8 1331.3 L1104.8 1349.1 L1108.8 1325.0 L1116.8 1331.1 L1120.8 1330.7 L1124.9 1326.2 L1128.9 1309.5 L1132.9 1309.5 L1136.9 1320.3 L1140.9 1339.3 L1144.9 1364.6 L1148.9 1370.3 L1152.9 1392.2 L1156.9 1408.9 L1160.9 1411.6 L1164.9 1427.5 L1168.9 1427.5 L1172.9 1443.3 L1176.9 1444.4 L1180.9 1464.5 L1184.9 1477.1 L1188.9 1482.6 L1192.9 1484.7 L1200.9 1512.2 L1204.9 1523.6 L1208.9 1523.6 L1212.9 1535.1 L1216.9 1540.3 L1220.9 1536.3 L1224.9 1551.5 L1232.9 1568.4 L1241.0 1594.6 L1245.0 1589.1 L1249.0 1593.7 L1253.0 1599.7 L1257.0 1586.0 L1261.0 1586.8 L1265.0 1582.9 L1269.0 1586.0 L1273.0 1595.4 L1277.0 1600.6 L1281.0 1590.3 L1285.0 1583.9 L1289.0 1599.7 L1293.0 1585.1 L1297.0 1580.0" fill="none" stroke="#00ff00" stroke-width="1.39" stroke-linejoin="round"/>
<g fill="#00ff00"><circle cx="144.0" cy="1515.5" r="3.47"/><circle cx="148.0" cy="1515.0" r="3.47"/><circle cx="152.0" cy="1516.6" r="3.47"/><circle cx="156.0" cy="1510.2" r="3.47"/><circle cx="160.0" cy="1516.3" r="3.47"/><circle cx="168.0" cy="1510.9" r="3.47"/><circle cx="172.0" cy="1513.4" r="3.47"/><circle cx="176.0" cy="1519.3" r="3.47"/><circle cx="180.0" cy="1522.5" r="3.47"/><circle cx="184.0" cy="1516.3" r="3.47"/><circle cx="188.0" cy="1521.4" r="3.47"/><circle cx="192.0" cy="1515.5" r="3.47"/><circle cx="196.0" cy="1510.2" r="3.47"/><circle cx="200.0" cy="1508.6" r="3.47"/><circle cx="204.1" cy="1499.5" r="3.47"/><circle cx="208.1" cy="1489.8" r="3.47"/><circle cx="212.1" cy="1499.5" r="3.47"/><circle cx="216.1" cy="1485.5" r="3.47"/><circle cx="220.1" cy="1477.5" r="3.47"/><circle cx="224.1" cy="1470.5" r="3.47"/><circle cx="228.1" cy="1465.5" r="3.47"/><circle cx="232.1" cy="1463.0" r="3.47"/><circle cx="236.1" cy="1462.0" r="3.47"/><circle cx="240.1" cy="1469.5" r="3.47"/><circle cx="248.1" cy="1457.1" r="3.47"/><circle cx="252.1" cy="1461.4" r="3.47"/><circle cx="256.1" cy="1455.2" r="3.47"/><circle cx="276.1" cy="1442.3" r="3.47"/><circle cx="280.1" cy="1439.4" r="3.47"/><circle cx="284.1" cy="1431.3" r="3.47"/><circle cx="288.1" cy="1424.1" r="3.47"/><circle cx="292.1" cy="1420.1" r="3.47"/><circle cx="296.1" cy="1406.2" r="3.47"/><circle cx="300.1" cy="1403.8" r="3.47"/><circle cx="304.1" cy="1407.5" r="3.47"/><circle cx="308.1" cy="1412.3" r="3.47"/><circle cx="312.1" cy="1408.0" r="3.47"/><circle cx="320.2" cy="1402.1" r="3.47"/><circle cx="324.2" cy="1392.0" r="3.47"/><circle cx="328.2" cy="1398.1" r="3.47"/><circle cx="332.2" cy="1400.5" r="3.47"/><circle cx="336.2" cy="1397.3" r="3.47"/><circle cx="344.2" cy="1392.5" r="3.47"/><circle cx="348.2" cy="1389.8" r="3.47"/><circle cx="352.2" cy="1389.8" r="3.47"/><circle cx="356.2" cy="1393.6" r="3.47"/><circle cx="360.2" cy="1385.0" r="3.47"/><circle cx="372.2" cy="1412.3" r="3.47"/><circle cx="376.2" cy="1417.1" r="3.47"/><circle cx="380.2" cy="1421.4" r="3.47"/><circle cx="384.2" cy="1420.4" r="3.47"/><circle cx="388.2" cy="1412.0" r="3.47"/><circle cx="392.2" cy="1413.4" r="3.47"/><circle cx="396.2" cy="1402.1" r="3.47"/><circle cx="400.2" cy="1403.2" r="3.47"/><circle cx="404.2" cy="1402.1" r="3.47"/><circle cx="408.2" cy="1404.1" r="3.47"/><circle cx="412.2" cy="1400.5" r="3.47"/><circle cx="416.2" cy="1393.0" r="3.47"/><circle cx="420.2" cy="1397.1" r="3.47"/><circle cx="424.2" cy="1400.9" r="3.47"/><circle cx="428.2" cy="1402.5" r="3.47"/><circle cx="432.2" cy="1390.7" r="3.47"/><circle cx="436.3" cy="1397.1" r="3.47"/><circle cx="440.3" cy="1400.9" r="3.47"/><circle cx="444.3" cy="1406.3" r="3.47"/><circle cx="448.3" cy="1400.9" r="3.47"/><circle cx="452.3" cy="1401.4" r="3.47"/><circle cx="456.3" cy="1396.1" r="3.47"/><circle cx="460.3" cy="1393.7" r="3.47"/><circle cx="464.3" cy="1398.2" r="3.47"/><circle cx="468.3" cy="1398.8" r="3.47"/><circle cx="472.3" cy="1394.5" r="3.47"/><circle cx="476.3" cy="1398.2" r="3.47"/><circle cx="480.3" cy="1408.1" r="3.47"/><circle cx="484.3" cy="1410.5" r="3.47"/><circle cx="488.3" cy="1408.1" r="3.47"/><circle cx="492.3" cy="1414.3" r="3.47"/><circle cx="500.3" cy="1416.4" r="3.47"/><circle cx="504.3" cy="1412.1" r="3.47"/><circle cx="508.3" cy="1404.9" r="3.47"/><circle cx="512.3" cy="1409.5" r="3.47"/><circle cx="516.3" cy="1423.4" r="3.47"/><circle cx="520.3" cy="1423.4" r="3.47"/><circle cx="524.3" cy="1424.5" r="3.47"/><circle cx="528.3" cy="1410.0" r="3.47"/><circle cx="532.3" cy="1420.2" r="3.47"/><circle cx="536.3" cy="1420.2" r="3.47"/><circle cx="540.3" cy="1426.3" r="3.47"/><circle cx="544.3" cy="1442.4" r="3.47"/><circle cx="548.4" cy="1434.1" r="3.47"/><circle cx="552.4" cy="1434.1" r="3.47"/><circle cx="556.4" cy="1430.4" r="3.47"/><circle cx="560.4" cy="1438.7" r="3.47"/><circle cx="564.4" cy="1438.7" r="3.47"/><circle cx="568.4" cy="1438.7" r="3.47"/><circle cx="572.4" cy="1448.5" r="3.47"/><circle cx="576.4" cy="1459.7" r="3.47"/><circle cx="580.4" cy="1467.7" r="3.47"/><circle cx="584.4" cy="1476.7" r="3.47"/><circle cx="592.4" cy="1499.5" r="3.47"/><circle cx="596.4" cy="1499.5" r="3.47"/><circle cx="600.4" cy="1509.7" r="3.47"/><circle cx="604.4" cy="1518.7" r="3.47"/><circle cx="608.4" cy="1520.5" r="3.47"/><circle cx="612.4" cy="1525.7" r="3.47"/><circle cx="616.4" cy="1533.2" r="3.47"/><circle cx="620.4" cy="1554.2" r="3.47"/><circle cx="624.4" cy="1558.7" r="3.47"/><circle cx="628.4" cy="1569.7" r="3.47"/><circle cx="632.4" cy="1564.3" r="3.47"/><circle cx="636.4" cy="1573.3" r="3.47"/><circle cx="640.4" cy="1578.2" r="3.47"/><circle cx="644.4" cy="1590.2" r="3.47"/><circle cx="648.4" cy="1591.3" r="3.47"/><circle cx="652.4" cy="1601.5" r="3.47"/><circle cx="656.4" cy="1599.2" r="3.47"/><circle cx="660.4" cy="1606.7" r="3.47"/><circle cx="664.5" cy="1608.7" r="3.47"/><circle cx="668.5" cy="1610.8" r="3.47"/><circle cx="672.5" cy="1616.2" r="3.47"/><circle cx="676.5" cy="1637.2" r="3.47"/><circle cx="680.5" cy="1645.3" r="3.47"/><circle cx="684.5" cy="1647.2" r="3.47"/><circle cx="692.5" cy="1655.5" r="3.47"/><circle cx="696.5" cy="1657.0" r="3.47"/><circle cx="700.5" cy="1676.3" r="3.47"/><circle cx="704.5" cy="1666.4" r="3.47"/><circle cx="708.5" cy="1661.6" r="3.47"/><circle cx="712.5" cy="1666.2" r="3.47"/><circle cx="716.5" cy="1661.1" r="3.47"/><circle cx="720.5" cy="1657.6" r="3.47"/><circle cx="724.5" cy="1655.2" r="3.47"/><circle cx="728.5" cy="1652.0" r="3.47"/><circle cx="732.5" cy="1651.4" r="3.47"/><circle cx="736.5" cy="1653.0" r="3.47"/><circle cx="740.5" cy="1651.4" r="3.47"/><circle cx="744.5" cy="1655.2" r="3.47"/><circle cx="748.5" cy="1662.1" r="3.47"/><circle cx="752.5" cy="1663.2" r="3.47"/><circle cx="756.5" cy="1665.4" r="3.47"/><circle cx="760.5" cy="1657.3" r="3.47"/><circle cx="764.5" cy="1651.2" r="3.47"/><circle cx="768.5" cy="1646.6" r="3.47"/><circle cx="776.5" cy="1631.3" r="3.47"/><circle cx="780.6" cy="1622.5" r="3.47"/><circle cx="784.6" cy="1616.3" r="3.47"/><circle cx="788.6" cy="1616.6" r="3.47"/><circle cx="792.6" cy="1604.8" r="3.47"/><circle cx="796.6" cy="1607.0" r="3.47"/><circle cx="800.6" cy="1603.2" r="3.47"/><circle cx="804.6" cy="1594.1" r="3.47"/><circle cx="808.6" cy="1590.9" r="3.47"/><circle cx="812.6" cy="1597.3" r="3.47"/><circle cx="820.6" cy="1588.2" r="3.47"/><circle cx="824.6" cy="1580.2" r="3.47"/><circle cx="828.6" cy="1578.0" r="3.47"/><circle cx="832.6" cy="1578.6" r="3.47"/><circle cx="836.6" cy="1564.1" r="3.47"/><circle cx="840.6" cy="1552.0" r="3.47"/><circle cx="844.6" cy="1554.5" r="3.47"/><circle cx="848.6" cy="1552.6" r="3.47"/><circle cx="852.6" cy="1550.5" r="3.47"/><circle cx="856.6" cy="1544.8" r="3.47"/><circle cx="860.6" cy="1545.4" r="3.47"/><circle cx="868.6" cy="1532.0" r="3.47"/><circle cx="872.6" cy="1535.2" r="3.47"/><circle cx="876.6" cy="1541.6" r="3.47"/><circle cx="880.6" cy="1535.5" r="3.47"/><circle cx="884.6" cy="1521.3" r="3.47"/><circle cx="888.6" cy="1510.0" r="3.47"/><circle cx="892.6" cy="1518.4" r="3.47"/><circle cx="896.7" cy="1499.1" r="3.47"/><circle cx="900.7" cy="1497.1" r="3.47"/><circle cx="904.7" cy="1508.1" r="3.47"/><circle cx="908.7" cy="1510.2" r="3.47"/><circle cx="912.7" cy="1518.4" r="3.47"/><circle cx="916.7" cy="1515.4" r="3.47"/><circle cx="920.7" cy="1505.7" r="3.47"/><circle cx="924.7" cy="1508.4" r="3.47"/><circle cx="928.7" cy="1496.1" r="3.47"/><circle cx="932.7" cy="1493.4" r="3.47"/><circle cx="936.7" cy="1485.1" r="3.47"/><circle cx="940.7" cy="1480.0" r="3.47"/><circle cx="944.7" cy="1483.8" r="3.47"/><circle cx="948.7" cy="1476.8" r="3.47"/><circle cx="952.7" cy="1475.2" r="3.47"/><circle cx="956.7" cy="1482.1" r="3.47"/><circle cx="964.7" cy="1474.1" r="3.47"/><circle cx="968.7" cy="1473.6" r="3.47"/><circle cx="972.7" cy="1468.2" r="3.47"/><circle cx="976.7" cy="1463.4" r="3.47"/><circle cx="980.7" cy="1449.4" r="3.47"/><circle cx="984.7" cy="1443.3" r="3.47"/><circle cx="988.7" cy="1442.2" r="3.47"/><circle cx="992.7" cy="1436.1" r="3.47"/><circle cx="996.7" cy="1420.0" r="3.47"/><circle cx="1000.7" cy="1414.2" r="3.47"/><circle cx="1004.7" cy="1399.1" r="3.47"/><circle cx="1008.8" cy="1423.3" r="3.47"/><circle cx="1012.8" cy="1417.2" r="3.47"/><circle cx="1016.8" cy="1390.2" r="3.47"/><circle cx="1020.8" cy="1378.3" r="3.47"/><circle cx="1024.8" cy="1366.4" r="3.47"/><circle cx="1028.8" cy="1359.4" r="3.47"/><circle cx="1032.8" cy="1348.3" r="3.47"/><circle cx="1036.8" cy="1345.0" r="3.47"/><circle cx="1040.8" cy="1340.0" r="3.47"/><circle cx="1048.8" cy="1352.2" r="3.47"/><circle cx="1052.8" cy="1342.2" r="3.47"/><circle cx="1056.8" cy="1355.3" r="3.47"/><circle cx="1060.8" cy="1373.3" r="3.47"/><circle cx="1064.8" cy="1386.1" r="3.47"/><circle cx="1068.8" cy="1388.9" r="3.47"/><circle cx="1072.8" cy="1395.0" r="3.47"/><circle cx="1076.8" cy="1397.6" r="3.47"/><circle cx="1080.8" cy="1387.2" r="3.47"/><circle cx="1084.8" cy="1361.3" r="3.47"/><circle cx="1088.8" cy="1345.3" r="3.47"/><circle cx="1092.8" cy="1336.1" r="3.47"/><circle cx="1096.8" cy="1337.2" r="3.47"/><circle cx="1100.8" cy="1331.3" r="3.47"/><circle cx="1104.8" cy="1349.1" r="3.47"/><circle cx="1108.8" cy="1325.0" r="3.47"/><circle cx="1116.8" cy="1331.1" r="3.47"/><circle cx="1120.8" cy="1330.7" r="3.47"/><circle cx="1124.9" cy="1326.2" r="3.47"/><circle cx="1128.9" cy="1309.5" r="3.47"/><circle cx="1132.9" cy="1309.5" r="3.47"/><circle cx="1136.9" cy="1320.3" r="3.47"/><circle cx="1140.9" cy="1339.3" r="3.47"/><circle cx="1144.9" cy="1364.6" r="3.47"/><circle cx="1148.9" cy="1370.3" r="3.47"/><circle cx="1152.9" cy="1392.2" r="3.47"/><circle cx="1156.9" cy="1408.9" r="3.47"/><circle cx="1160.9" cy="1411.6" r="3.47"/><circle cx="1164.9" cy="1427.5" r="3.47"/><circle cx="1168.9" cy="1427.5" r="3.47"/><circle cx="1172.9" cy="1443.3" r="3.47"/><circle cx="1176.9" cy="1444.4" r="3.47"/><circle cx="1180.9" cy="1464.5" r="3.47"/><circle cx="1184.9" cy="1477.1" r="3.47"/><circle cx="1188.9" cy="1482.6" r="3.47"/><circle cx="1192.9" cy="1484.7" r="3.47"/><circle cx="1200.9" cy="1512.2" r="3.47"/><circle cx="1204.9" cy="1523.6" r="3.47"/><circle cx="1208.9" cy="1523.6" r="3.47"/><circle cx="1212.9" cy="1535.1" r="3.47"/><circle cx="1216.9" cy="1540.3" r="3.47"/><circle cx="1220.9" cy="1536.3" r="3.47"/><circle cx="1224.9" cy="1551.5" r="3.47"/><circle cx="1232.9" cy="1568.4" r="3.47"/><circle cx="1241.0" cy="1594.6" r="3.47"/><circle cx="1245.0" cy="1589.1" r="3.47"/><circle cx="1249.0" cy="1593.7" r="3.47"/><circle cx="1253.0" cy="1599.7" r="3.47"/><circle cx="1257.0" cy="1586.0" r="3.47"/><circle cx="1261.0" cy="1586.8" r="3.47"/><circle cx="1265.0" cy="1582.9" r="3.47"/><circle cx="1269.0" cy="1586.0" r="3.47"/><circle cx="1273.0" cy="1595.4" r="3.47"/><circle cx="1277.0" cy="1600.6" r="3.47"/><circle cx="1281.0" cy="1590.3" r="3.47"/><circle cx="1285.0" cy="1583.9" r="3.47"/><circle cx="1289.0" cy="1599.7" r="3.47"/><circle cx="1293.0" cy="1585.1" r="3.47"/><circle cx="1297.0" cy="1580.0" r="3.47"/></g>
</g>
<g clip-path="url(#c2)" stroke="#ff00ff" stroke-width="2.3" stroke-linecap="round" stroke-linejoin="round" fill="none">
<path d="M144.0 1080.0L102.4 1077.9M102.4 1077.9L98.0 1061.0"/>
<path d="M148.0 1080.0L106.4 1077.9M106.4 1077.9L102.0 1061.0"/>
<path d="M152.0 1080.0L110.4 1077.9M110.4 1077.9L106.0 1061.0"/>
<path d="M156.0 1080.0L114.4 1077.9M114.4 1077.9L110.0 1061.0"/>
<path d="M160.0 1113.5L127.6 1139.7M133.7 1134.8L126.4 1129.9"/>
<path d="M168.0 1132.4L132.1 1153.5M138.8 1149.5L132.4 1143.6"/>
<path d="M172.0 1141.8L135.1 1161.2M142.1 1157.6L135.9 1151.4"/>
<path d="M176.0 1151.2L138.5 1169.3M145.5 1165.9L139.6 1159.5"/>
<path d="M180.0 1109.4L144.5 1131.2M144.5 1131.2L131.4 1119.7"/>
<path d="M184.0 1092.8L143.6 1102.7M143.6 1102.7L134.5 1087.7"/>
<path d="M188.0 1096.9L147.9 1108.1M147.9 1108.1L138.4 1093.4"/>
<path d="M192.0 1184.8L153.2 1199.8M160.5 1197.0L155.0 1190.1"/>
<path d="M196.0 1142.8L155.4 1152.1M163.0 1150.3L158.6 1142.8"/>
<path d="M200.0 1126.0L159.3 1134.8M167.0 1133.1L162.7 1125.5"/>
<path d="M204.1 1160.0L162.4 1161.2M170.2 1161.0L167.4 1152.7"/>
<path d="M208.1 1164.0L166.4 1164.7M174.2 1164.6L171.5 1156.3"/>
<path d="M212.1 1147.2L170.4 1146.0M178.2 1146.3L175.9 1137.9"/>
<path d="M216.1 1181.0L175.0 1174.1M182.7 1175.4L181.5 1166.8"/>
<path d="M220.1 1189.3L178.9 1182.8M186.6 1184.0L185.4 1175.4"/>
<path d="M224.1 1197.7L182.9 1191.5M190.6 1192.6L189.3 1184.0"/>
<path d="M228.1 1206.0L186.8 1200.1M194.6 1201.2L193.1 1192.6"/>
<path d="M232.1 1197.5L190.4 1196.9M198.2 1197.0L195.7 1188.6"/>
<path d="M236.1 1193.5L194.6 1190.1M202.3 1190.7L200.4 1182.2"/>
<path d="M240.1 1188.8L199.5 1179.2M207.1 1181.0L206.5 1172.2"/>
<path d="M248.1 1210.0L206.4 1208.5M214.3 1208.8L211.9 1200.4"/>
<path d="M252.1 1197.5L210.7 1202.4M218.5 1201.5L214.9 1193.5"/>
<path d="M256.1 1201.9L219.3 1221.5M226.2 1217.8L220.0 1211.7"/>
<path d="M276.1 1130.6L234.9 1136.7M242.6 1135.6L238.8 1127.7"/>
<path d="M280.1 1150.6L238.8 1156.2M246.6 1155.1L242.9 1147.2"/>
<path d="M284.1 1109.8L242.5 1111.2M242.5 1111.2L236.7 1094.7"/>
<path d="M288.1 1167.8L248.5 1180.6M255.9 1178.2L250.9 1171.0"/>
<path d="M292.1 1146.9L253.5 1162.6M260.8 1159.6L255.2 1152.9"/>
<path d="M296.1 1172.2L256.6 1185.4M264.0 1182.9L258.9 1175.8"/>
<path d="M300.1 1197.5L259.9 1208.2M267.4 1206.2L262.8 1198.8"/>
<path d="M304.1 1193.1L264.9 1207.2M272.3 1204.5L267.0 1197.6"/>
<path d="M308.1 1176.2L267.3 1184.4M274.9 1182.9L270.8 1175.2"/>
<path d="M312.1 1160.0L270.9 1166.2M278.7 1165.0L274.9 1157.2"/>
<path d="M320.2 1199.0L283.6 1219.1M290.5 1215.3L284.2 1209.3"/>
<path d="M324.2 1218.6L288.7 1240.5M295.4 1236.4L288.8 1230.6"/>
<path d="M328.2 1218.6L296.0 1245.1M302.0 1240.1L294.7 1235.3"/>
<path d="M332.2 1201.4L304.1 1232.2M309.4 1226.5L301.5 1222.8"/>
<path d="M336.2 1185.0L304.4 1211.9M310.3 1206.9L303.0 1202.2"/>
<path d="M344.2 1197.5L310.6 1222.2M316.9 1217.6L309.9 1212.4"/>
<path d="M348.2 1201.8L311.1 1220.7M318.0 1217.2L311.9 1210.9"/>
<path d="M352.2 1172.5L312.0 1183.6M319.6 1181.5L314.8 1174.2"/>
<path d="M356.2 1126.1L314.6 1127.8M322.4 1127.5L319.4 1119.3"/>
<path d="M360.2 1113.9L319.1 1121.1M326.8 1119.7L322.8 1112.0"/>
<path d="M372.2 1089.0L330.6 1086.0M330.6 1086.0L326.7 1069.0"/>
<path d="M376.2 1067.8L334.6 1069.6M334.6 1069.6L328.7 1053.1"/>
<path d="M380.2 1059.3L338.6 1056.3M338.6 1056.3L334.7 1039.3"/>
<path d="M384.2 1101.2L342.5 1100.6M342.5 1100.6L337.6 1083.8"/>
<path d="M388.2 1110.3L346.5 1109.7M346.5 1109.7L341.6 1092.9"/>
<path d="M392.2 1093.1L350.8 1088.6M350.8 1088.6L347.4 1071.4"/>
<path d="M396.2 1133.4L354.7 1130.3M362.5 1130.9L360.5 1122.4"/>
<path d="M400.2 1138.6L358.6 1137.9M366.4 1138.0L363.9 1129.6"/>
<path d="M404.2 1128.0L362.7 1125.1M370.5 1125.6L368.4 1117.1"/>
<path d="M408.2 1124.0L366.7 1120.4M374.5 1121.0L372.6 1112.5"/>
<path d="M412.2 1118.0L370.7 1114.4M378.5 1115.0L376.6 1106.5"/>
<path d="M416.2 1114.0L374.8 1109.6M382.6 1110.5L380.8 1101.9"/>
<path d="M420.2 1110.0L378.8 1105.6M378.8 1105.6L375.4 1088.5"/>
<path d="M424.2 1108.0L382.8 1103.6M382.8 1103.6L379.4 1086.5"/>
<path d="M428.2 1105.4L386.6 1106.0M386.6 1106.0L381.1 1089.4"/>
<path d="M432.2 1143.1L390.6 1141.9M398.4 1142.1L396.0 1133.7"/>
<path d="M436.3 1112.0L395.0 1106.2M402.7 1107.3L401.3 1098.7"/>
<path d="M440.3 1118.0L399.0 1112.2M406.7 1113.3L405.3 1104.7"/>
<path d="M444.3 1088.4L403.1 1082.0M403.1 1082.0L400.5 1064.8"/>
<path d="M448.3 1105.6L406.8 1101.8M406.8 1101.8L403.1 1084.7"/>
<path d="M452.3 1100.9L411.3 1093.3M411.3 1093.3L409.2 1076.0"/>
<path d="M456.3 1112.0L415.1 1105.5M422.8 1106.7L421.6 1098.1"/>
<path d="M460.3 1118.0L419.1 1111.5M426.8 1112.7L425.6 1104.1"/>
<path d="M464.3 1122.0L423.2 1114.8M430.9 1116.1L429.8 1107.5"/>
<path d="M468.3 1116.0L427.2 1108.8M434.9 1110.1L433.8 1101.5"/>
<path d="M472.3 1124.0L431.3 1116.8M438.9 1118.1L437.8 1109.5"/>
<path d="M476.3 1127.0L435.3 1119.8M442.9 1121.1L441.8 1112.5"/>
<path d="M480.3 1075.8L439.4 1067.9M439.4 1067.9L437.4 1050.6"/>
<path d="M484.3 1080.3L443.4 1072.4M443.4 1072.4L441.5 1055.1"/>
<path d="M488.3 1084.9L447.4 1076.9M447.4 1076.9L445.5 1059.5"/>
<path d="M492.3 1089.5L451.4 1081.4M451.4 1081.4L449.5 1064.0"/>
<path d="M500.3 1130.8L459.4 1122.9M467.1 1124.4L466.1 1115.7"/>
<path d="M504.3 1134.7L463.7 1125.5M471.3 1127.2L470.6 1118.5"/>
<path d="M508.3 1122.8L467.5 1114.7M475.1 1116.2L474.2 1107.5"/>
<path d="M512.3 1111.0L471.3 1103.9M471.3 1103.9L469.0 1086.6"/>
<path d="M516.3 1099.1L475.1 1093.1M475.1 1093.1L472.3 1075.9"/>
<path d="M520.3 1110.6L479.2 1103.8M479.2 1103.8L476.8 1086.5"/>
<path d="M524.3 1122.1L483.4 1114.4M491.1 1115.9L490.0 1107.2"/>
<path d="M528.3 1116.0L487.2 1109.6M494.9 1110.8L493.6 1102.1"/>
<path d="M532.3 1109.8L491.0 1104.8M491.0 1104.8L487.8 1087.6"/>
<path d="M536.3 1100.2L495.3 1093.2M495.3 1093.2L492.9 1075.9"/>
<path d="M540.3 1100.9L499.0 1095.6M499.0 1095.6L496.0 1078.4"/>
<path d="M544.3 1079.7L503.3 1072.7M503.3 1072.7L500.9 1055.4"/>
<path d="M548.4 1092.7L507.1 1086.5M507.1 1086.5L504.5 1069.3"/>
<path d="M552.4 1105.6L511.0 1100.3M511.0 1100.3L508.0 1083.1"/>
<path d="M556.4 1117.5L515.5 1109.1M523.2 1110.7L522.3 1102.0"/>
<path d="M560.4 1088.9L519.3 1082.0M519.3 1082.0L516.9 1064.7"/>
<path d="M564.4 1086.4L522.8 1083.4M522.8 1083.4L518.8 1066.3"/>
<path d="M568.4 1130.4L527.2 1124.1M534.9 1125.3L533.6 1116.6"/>
<path d="M572.4 1113.2L531.3 1106.4M539.0 1107.7L537.8 1099.0"/>
<path d="M576.4 1096.1L535.4 1088.7M535.4 1088.7L533.2 1071.4"/>
<path d="M580.4 1087.8L539.2 1081.3M539.2 1081.3L536.7 1064.0"/>
<path d="M584.4 1079.5L543.1 1073.9M543.1 1073.9L540.2 1056.6"/>
<path d="M592.4 1062.9L550.9 1059.0M550.9 1059.0L547.3 1041.9"/>
<path d="M596.4 1092.7L557.0 1079.1M557.0 1079.1L557.5 1061.6"/>
<path d="M600.4 1084.1L559.3 1077.3M559.3 1077.3L556.8 1060.1"/>
<path d="M604.4 1088.3L563.6 1080.0M563.6 1080.0L561.7 1062.7"/>
<path d="M608.4 1092.5L567.9 1082.8M567.9 1082.8L566.7 1065.3"/>
<path d="M612.4 1096.6L572.3 1085.5M572.3 1085.5L571.7 1068.0"/>
<path d="M616.4 1113.9L576.4 1102.4M583.9 1104.5L583.7 1095.8"/>
<path d="M620.4 1130.4L580.1 1119.8M587.7 1121.8L587.3 1113.1"/>
<path d="M624.4 1092.3L583.8 1083.2M583.8 1083.2L582.3 1065.8"/>
<path d="M628.4 1054.2L587.5 1046.6M587.5 1046.6L585.4 1029.3"/>
<path d="M632.4 1125.7L592.5 1114.0M599.9 1116.2L599.8 1107.4"/>
<path d="M636.4 1077.0L594.9 1073.9M594.9 1073.9L590.9 1056.9"/>
<path d="M640.4 1062.9L598.9 1059.8M598.9 1059.8L594.9 1042.8"/>
<path d="M644.4 1106.9L607.2 1088.2M607.2 1088.2L610.0 1071.0"/>
<path d="M648.4 1103.7L609.6 1088.5M609.6 1088.5L610.9 1071.1"/>
<path d="M652.4 1100.6L612.5 1088.7M612.5 1088.7L612.2 1071.3"/>
<path d="M656.4 1071.5L614.9 1068.5M614.9 1068.5L610.9 1051.5"/>
<path d="M660.4 1078.2L619.0 1074.4M619.0 1074.4L615.3 1057.3"/>
<path d="M664.5 1084.9L623.0 1080.3M623.0 1080.3L619.7 1063.1"/>
<path d="M668.5 1096.6L626.9 1094.4M626.9 1094.4L622.6 1077.4"/>
<path d="M672.5 1088.8L631.0 1085.1M631.0 1085.1L627.3 1068.0"/>
<path d="M676.5 1071.9L640.8 1050.3M640.8 1050.3L644.9 1033.4"/>
<path d="M680.5 1125.7L640.9 1112.5M648.3 1115.0L648.5 1106.3"/>
<path d="M684.5 1099.4L644.8 1086.6M644.8 1086.6L645.0 1069.1"/>
<path d="M692.5 1046.7L652.6 1034.7M652.6 1034.7L652.4 1017.2"/>
<path d="M696.5 986.7L656.3 975.5M656.3 975.5L655.8 958.0M661.4 976.9L661.1 968.2"/>
<path d="M700.5 954.7L659.8 945.8M659.8 945.8L658.3 928.4M664.9 946.9L664.1 938.2"/>
<path d="M704.5 1038.1L671.4 1012.8M671.4 1012.8L677.4 996.4"/>
<path d="M708.5 1063.9L675.3 1038.7M675.3 1038.7L681.2 1022.2"/>
<path d="M712.5 942.1L671.6 934.2M671.6 934.2L669.7 916.8M676.7 935.2L675.7 926.5"/>
<path d="M716.5 1059.3L676.6 1047.1M676.6 1047.1L676.5 1029.6"/>
<path d="M720.5 1075.7L679.3 1069.8M679.3 1069.8L676.5 1052.6"/>
<path d="M724.5 1075.9L683.2 1070.3M683.2 1070.3L680.3 1053.1"/>
<path d="M728.5 975.9L686.9 977.0M686.9 977.0L681.2 960.4M692.1 976.8L689.2 968.6"/>
<path d="M732.5 992.7L691.3 986.9M691.3 986.9L688.4 969.6M696.4 987.6L695.0 979.0"/>
<path d="M736.5 1009.6L696.8 997.1M696.8 997.1L696.8 979.6"/>
<path d="M740.5 1033.0L700.1 1022.9M700.1 1022.9L699.1 1005.5"/>
<path d="M744.5 959.3L705.1 945.8M705.1 945.8L705.6 928.3M710.0 947.5L710.3 938.7"/>
<path d="M748.5 1063.3L709.0 1050.1M709.0 1050.1L709.3 1032.7"/>
<path d="M752.5 1059.6L714.5 1042.7M714.5 1042.7L716.5 1025.4"/>
<path d="M756.5 983.9L718.3 967.3M718.3 967.3L720.1 949.9M723.1 969.4L724.0 960.7"/>
<path d="M760.5 1042.7L721.0 1029.5M721.0 1029.5L721.3 1012.1"/>
<path d="M764.5 1025.6L727.4 1006.7M727.4 1006.7L730.3 989.5"/>
<path d="M768.5 1076.4L731.5 1057.3M731.5 1057.3L734.5 1040.1"/>
<path d="M780.6 1063.9L741.3 1050.0M741.3 1050.0L741.9 1032.6"/>
<path d="M792.6 1096.1L751.6 1088.7M751.6 1088.7L749.4 1071.4"/>
<path d="M796.6 1100.4L755.7 1092.0M755.7 1092.0L754.0 1074.6"/>
<path d="M800.6 1104.6L760.0 1095.3M760.0 1095.3L758.6 1077.9"/>
<path d="M804.6 1120.0L763.6 1112.3M771.3 1113.7L770.3 1105.1"/>
<path d="M808.6 1135.4L767.3 1129.4M775.1 1130.5L773.7 1121.9"/>
<path d="M812.6 1150.7L771.1 1146.5M778.9 1147.3L777.2 1138.7"/>
<path d="M820.6 1137.9L779.1 1133.7M786.9 1134.5L785.1 1125.9"/>
<path d="M824.6 1164.6L782.9 1163.2M790.8 1163.5L788.4 1155.1"/>
<path d="M828.6 1117.5L786.9 1117.5M794.7 1117.5L792.1 1109.2"/>
<path d="M832.6 1170.0L790.9 1170.0M798.7 1170.0L796.1 1161.7"/>
<path d="M836.6 1167.0L794.9 1166.3M802.8 1166.4L800.3 1158.0"/>
<path d="M840.6 1164.0L799.0 1162.6M806.8 1162.9L804.4 1154.4"/>
<path d="M844.6 1161.0L803.0 1159.0M810.8 1159.3L808.6 1150.9"/>
<path d="M848.6 1158.0L807.0 1155.4M814.8 1155.9L812.8 1147.4"/>
<path d="M852.6 1155.0L811.1 1151.8M818.9 1152.4L816.9 1143.9"/>
<path d="M856.6 1149.1L815.0 1147.5M822.8 1147.8L820.5 1139.4"/>
<path d="M860.6 1143.2L819.0 1143.2M826.8 1143.2L824.2 1134.9"/>
<path d="M868.6 1163.2L827.0 1161.8M834.8 1162.0L832.5 1153.6"/>
<path d="M872.6 1173.2L831.0 1171.1M838.8 1171.5L836.6 1163.0"/>
<path d="M876.6 1163.6L835.0 1161.4M842.8 1161.8L840.7 1153.3"/>
<path d="M880.6 1173.7L839.1 1171.1M846.9 1171.6L844.8 1163.1"/>
<path d="M884.6 1183.9L843.1 1180.8M850.9 1181.4L848.9 1172.9"/>
<path d="M888.6 1189.3L847.0 1189.3M854.8 1189.3L852.2 1181.0"/>
<path d="M892.6 1193.0L851.0 1192.5M858.8 1192.6L856.3 1184.2"/>
<path d="M896.7 1196.8L855.0 1195.7M862.8 1195.9L860.4 1187.5"/>
<path d="M900.7 1176.4L859.2 1172.2M867.0 1173.0L865.2 1164.4"/>
<path d="M904.7 1156.1L863.6 1148.7M871.3 1150.1L870.2 1141.4"/>
<path d="M908.7 1159.3L867.3 1154.0M875.1 1155.0L873.6 1146.4"/>
<path d="M912.7 1137.9L871.7 1130.5M879.3 1131.9L878.3 1123.2"/>
<path d="M916.7 1142.1L875.9 1133.7M883.5 1135.3L882.7 1126.6"/>
<path d="M920.7 1146.4L880.1 1136.9M887.7 1138.7L887.1 1130.0"/>
<path d="M924.7 1150.7L884.4 1140.1M891.9 1142.1L891.5 1133.4"/>
<path d="M928.7 1177.0L887.0 1175.7M894.8 1176.0L892.5 1167.5"/>
<path d="M932.7 1174.6L891.0 1173.1M898.9 1173.4L896.5 1165.0"/>
<path d="M936.7 1172.3L895.1 1170.6M902.9 1170.9L900.6 1162.5"/>
<path d="M940.7 1185.1L899.1 1183.0M906.9 1183.4L904.7 1174.9"/>
<path d="M944.7 1201.9L903.0 1202.7M910.8 1202.5L908.1 1194.3"/>
<path d="M948.7 1189.4L907.0 1188.6M914.9 1188.8L912.4 1180.4"/>
<path d="M952.7 1180.9L911.1 1178.3M918.9 1178.8L916.8 1170.3"/>
<path d="M956.7 1201.9L917.1 1188.9M924.5 1191.4L924.6 1182.6"/>
<path d="M964.7 1213.9L923.8 1205.8M931.5 1207.3L930.5 1198.7"/>
<circle cx="968.7" cy="1223.4" r="6.25"/>
<path d="M976.7 1218.6L935.2 1215.6M943.0 1216.1L941.0 1207.6"/>
<circle cx="980.7" cy="1226.5" r="6.25"/>
<circle cx="984.7" cy="1259.9" r="6.25"/>
<circle cx="988.7" cy="1242.7" r="6.25"/>
<circle cx="992.7" cy="1272.8" r="6.25"/>
<circle cx="996.7" cy="1269.7" r="6.25"/>
<circle cx="1000.7" cy="1272.8" r="6.25"/>
<circle cx="1004.7" cy="1242.7" r="6.25"/>
<circle cx="1008.8" cy="1251.7" r="6.25"/>
<circle cx="1012.8" cy="1272.8" r="6.25"/>
<circle cx="1016.8" cy="1272.8" r="6.25"/>
<circle cx="1020.8" cy="1255.6" r="6.25"/>
<circle cx="1024.8" cy="1258.9" r="6.25"/>
<circle cx="1028.8" cy="1255.3" r="6.25"/>
<circle cx="1032.8" cy="1251.7" r="6.25"/>
<circle cx="1036.8" cy="1259.4" r="6.25"/>
<circle cx="1040.8" cy="1272.8" r="6.25"/>
<circle cx="1048.8" cy="1272.8" r="6.25"/>
<circle cx="1052.8" cy="1260.7" r="6.25"/>
<circle cx="1056.8" cy="1256.2" r="6.25"/>
<circle cx="1060.8" cy="1251.7" r="6.25"/>
<circle cx="1064.8" cy="1229.9" r="6.25"/>
<path d="M1068.8 1202.0L1027.5 1196.2M1035.3 1197.3L1033.9 1188.7"/>
<path d="M1072.8 1201.5L1031.1 1201.5M1039.0 1201.5L1036.3 1193.2"/>
<circle cx="1076.8" cy="1238.9" r="6.25"/>
<circle cx="1080.8" cy="1272.8" r="6.25"/>
<circle cx="1084.8" cy="1272.8" r="6.25"/>
<circle cx="1088.8" cy="1272.8" r="6.25"/>
<circle cx="1092.8" cy="1272.8" r="6.25"/>
<circle cx="1096.8" cy="1272.8" r="6.25"/>
<circle cx="1100.8" cy="1272.8" r="6.25"/>
<circle cx="1104.8" cy="1272.8" r="6.25"/>
<circle cx="1108.8" cy="1255.6" r="6.25"/>
<circle cx="1116.8" cy="1272.8" r="6.25"/>
<circle cx="1120.8" cy="1255.6" r="6.25"/>
<circle cx="1124.9" cy="1253.0" r="6.25"/>
<circle cx="1128.9" cy="1272.8" r="6.25"/>
<circle cx="1132.9" cy="1267.1" r="6.25"/>
<circle cx="1136.9" cy="1262.0" r="6.25"/>
<circle cx="1140.9" cy="1256.9" r="6.25"/>
<circle cx="1144.9" cy="1250.4" r="6.25"/>
<circle cx="1148.9" cy="1259.4" r="6.25"/>
<circle cx="1152.9" cy="1272.8" r="6.25"/>
<circle cx="1156.9" cy="1238.9" r="6.25"/>
<circle cx="1160.9" cy="1229.9" r="6.25"/>
<path d="M1164.9 1218.6L1123.2 1217.9M1131.0 1218.0L1128.6 1209.6"/>
<path d="M1168.9 1213.0L1127.3 1210.1M1135.1 1210.6L1133.1 1202.1"/>
<path d="M1172.9 1210.3L1131.5 1205.9M1139.2 1206.8L1137.5 1198.2"/>
<path d="M1176.9 1215.0L1135.9 1207.8M1143.6 1209.1L1142.4 1200.5"/>
<circle cx="1180.9" cy="1222.1" r="6.25"/>
<path d="M1184.9 1214.0L1143.6 1208.2M1151.4 1209.3L1150.0 1200.7"/>
<circle cx="1188.9" cy="1231.1" r="6.25"/>
<circle cx="1192.9" cy="1251.7" r="6.25"/>
<circle cx="1200.9" cy="1235.0" r="6.25"/>
<circle cx="1204.9" cy="1222.1" r="6.25"/>
<path d="M1212.9 1214.3L1177.6 1236.4M1184.3 1232.3L1177.6 1226.6"/>
<circle cx="1216.9" cy="1238.9" r="6.25"/>
<path d="M1220.9 1188.7L1180.0 1181.0M1187.7 1182.5L1186.6 1173.8"/>
<circle cx="1224.9" cy="1220.9" r="6.25"/>
<path d="M1232.9 1205.4L1191.4 1208.0M1199.2 1207.5L1196.0 1199.4"/>
<circle cx="1241.0" cy="1233.7" r="6.25"/>
<path d="M1249.0 1193.6L1234.7 1232.7M1237.4 1225.4L1228.7 1225.0"/>
<path d="M1265.0 1198.6L1250.7 1237.7M1253.4 1230.4L1244.7 1230.0"/>
<path d="M1269.0 1197.1L1252.1 1235.2M1255.2 1228.1L1246.6 1227.1"/>
<path d="M1273.0 1210.0L1233.8 1224.2M1241.2 1221.6L1235.9 1214.6"/>
<path d="M1277.0 1147.1L1235.3 1147.1M1243.1 1147.1L1240.5 1138.7"/>
<path d="M1281.0 1189.3L1245.3 1210.7M1252.0 1206.7L1245.4 1200.9"/>
<circle cx="1285.0" cy="1235.0" r="6.25"/>
<path d="M1289.0 1209.8L1259.8 1239.5M1265.3 1234.0L1257.5 1230.0"/>
<path d="M1293.0 1201.4L1265.8 1233.0M1270.9 1227.1L1262.9 1223.6"/>
</g>
<path d="M144.0 108H1297.0V503H144.0Z" fill="none" stroke="#fff" stroke-width="2.22" stroke-linejoin="miter"/><path d="M144.0 486.80h-5.56M1297.0 486.80h5.56M144.0 463.25h-5.56M1297.0 463.25h5.56M144.0 416.15h-5.56M1297.0 416.15h5.56M144.0 392.60h-5.56M1297.0 392.60h5.56M144.0 369.05h-5.56M1297.0 369.05h5.56M144.0 345.50h-5.56M1297.0 345.50h5.56M144.0 298.40h-5.56M1297.0 298.40h5.56M144.0 274.85h-5.56M1297.0 274.85h5.56M144.0 251.30h-5.56M1297.0 251.30h5.56M144.0 227.75h-5.56M1297.0 227.75h5.56M144.0 180.65h-5.56M1297.0 180.65h5.56M144.0 157.10h-5.56M1297.0 157.10h5.56M144.0 133.55h-5.56M1297.0 133.55h5.56M144.0 110.00h-5.56M1297.0 110.00h5.56" stroke="#fff" stroke-width="1.67"/><path d="M144.0 439.70h-9.72M1297.0 439.70h9.72M144.0 321.95h-9.72M1297.0 321.95h9.72M144.0 204.20h-9.72M1297.0 204.20h9.72" stroke="#fff" stroke-width="2.22"/><path d="M144.0 503H1297.0V899H144.0Z" fill="none" stroke="#fff" stroke-width="2.22" stroke-linejoin="miter"/><path d="M144.0 886.52h-5.56M1297.0 886.52h5.56M144.0 868.88h-5.56M1297.0 868.88h5.56M144.0 851.24h-5.56M1297.0 851.24h5.56M144.0 815.96h-5.56M1297.0 815.96h5.56M144.0 798.32h-5.56M1297.0 798.32h5.56M144.0 780.68h-5.56M1297.0 780.68h5.56M144.0 763.04h-5.56M1297.0 763.04h5.56M144.0 727.76h-5.56M1297.0 727.76h5.56M144.0 710.12h-5.56M1297.0 710.12h5.56M144.0 692.48h-5.56M1297.0 692.48h5.56M144.0 674.84h-5.56M1297.0 674.84h5.56M144.0 639.56h-5.56M1297.0 639.56h5.56M144.0 621.92h-5.56M1297.0 621.92h5.56M144.0 604.28h-5.56M1297.0 604.28h5.56M144.0 586.64h-5.56M1297.0 586.64h5.56M144.0 551.36h-5.56M1297.0 551.36h5.56M144.0 533.72h-5.56M1297.0 533.72h5.56M144.0 516.08h-5.56M1297.0 516.08h5.56" stroke="#fff" stroke-width="1.67"/><path d="M144.0 833.60h-9.72M1297.0 833.60h9.72M144.0 745.40h-9.72M1297.0 745.40h9.72M144.0 657.20h-9.72M1297.0 657.20h9.72M144.0 569.00h-9.72M1297.0 569.00h9.72" stroke="#fff" stroke-width="2.22"/><path d="M144.0 899H1297.0V1295H144.0Z" fill="none" stroke="#fff" stroke-width="2.22" stroke-linejoin="miter"/><path d="M144.0 1294.03h-5.56M1297.0 1294.03h5.56M144.0 1250.97h-5.56M1297.0 1250.97h5.56M144.0 1229.44h-5.56M1297.0 1229.44h5.56M144.0 1207.91h-5.56M1297.0 1207.91h5.56M144.0 1186.38h-5.56M1297.0 1186.38h5.56M144.0 1143.32h-5.56M1297.0 1143.32h5.56M144.0 1121.79h-5.56M1297.0 1121.79h5.56M144.0 1100.26h-5.56M1297.0 1100.26h5.56M144.0 1078.73h-5.56M1297.0 1078.73h5.56M144.0 1035.67h-5.56M1297.0 1035.67h5.56M144.0 1014.14h-5.56M1297.0 1014.14h5.56M144.0 992.61h-5.56M1297.0 992.61h5.56M144.0 971.08h-5.56M1297.0 971.08h5.56M144.0 928.02h-5.56M1297.0 928.02h5.56M144.0 906.49h-5.56M1297.0 906.49h5.56" stroke="#fff" stroke-width="1.67"/><path d="M144.0 1272.50h-9.72M1297.0 1272.50h9.72M144.0 1164.85h-9.72M1297.0 1164.85h9.72M144.0 1057.20h-9.72M1297.0 1057.20h9.72M144.0 949.55h-9.72M1297.0 949.55h9.72" stroke="#fff" stroke-width="2.22"/><path d="M144.0 1295H1297.0V1690H144.0Z" fill="none" stroke="#fff" stroke-width="2.22" stroke-linejoin="miter"/><path d="M144.0 1686.00h-5.56M1297.0 1686.00h5.56M144.0 1678.67h-5.56M1297.0 1678.67h5.56M144.0 1671.35h-5.56M1297.0 1671.35h5.56M144.0 1664.02h-5.56M1297.0 1664.02h5.56M144.0 1649.38h-5.56M1297.0 1649.38h5.56M144.0 1642.05h-5.56M1297.0 1642.05h5.56M144.0 1634.73h-5.56M1297.0 1634.73h5.56M144.0 1627.40h-5.56M1297.0 1627.40h5.56M144.0 1612.76h-5.56M1297.0 1612.76h5.56M144.0 1605.43h-5.56M1297.0 1605.43h5.56M144.0 1598.11h-5.56M1297.0 1598.11h5.56M144.0 1590.78h-5.56M1297.0 1590.78h5.56M144.0 1576.14h-5.56M1297.0 1576.14h5.56M144.0 1568.81h-5.56M1297.0 1568.81h5.56M144.0 1561.49h-5.56M1297.0 1561.49h5.56M144.0 1554.16h-5.56M1297.0 1554.16h5.56M144.0 1539.52h-5.56M1297.0 1539.52h5.56M144.0 1532.19h-5.56M1297.0 1532.19h5.56M144.0 1524.87h-5.56M1297.0 1524.87h5.56M144.0 1517.54h-5.56M1297.0 1517.54h5.56M144.0 1502.90h-5.56M1297.0 1502.90h5.56M144.0 1495.57h-5.56M1297.0 1495.57h5.56M144.0 1488.25h-5.56M1297.0 1488.25h5.56M144.0 1480.92h-5.56M1297.0 1480.92h5.56M144.0 1466.28h-5.56M1297.0 1466.28h5.56M144.0 1458.95h-5.56M1297.0 1458.95h5.56M144.0 1451.63h-5.56M1297.0 1451.63h5.56M144.0 1444.30h-5.56M1297.0 1444.30h5.56M144.0 1429.66h-5.56M1297.0 1429.66h5.56M144.0 1422.33h-5.56M1297.0 1422.33h5.56M144.0 1415.01h-5.56M1297.0 1415.01h5.56M144.0 1407.68h-5.56M1297.0 1407.68h5.56M144.0 1393.04h-5.56M1297.0 1393.04h5.56M144.0 1385.71h-5.56M1297.0 1385.71h5.56M144.0 1378.39h-5.56M1297.0 1378.39h5.56M144.0 1371.06h-5.56M1297.0 1371.06h5.56M144.0 1356.42h-5.56M1297.0 1356.42h5.56M144.0 1349.09h-5.56M1297.0 1349.09h5.56M144.0 1341.77h-5.56M1297.0 1341.77h5.56M144.0 1334.44h-5.56M1297.0 1334.44h5.56M144.0 1319.80h-5.56M1297.0 1319.80h5.56M144.0 1312.47h-5.56M1297.0 1312.47h5.56M144.0 1305.15h-5.56M1297.0 1305.15h5.56M144.0 1297.82h-5.56M1297.0 1297.82h5.56" stroke="#fff" stroke-width="1.67"/><path d="M144.0 1656.70h-9.72M1297.0 1656.70h9.72M144.0 1620.08h-9.72M1297.0 1620.08h9.72M144.0 1583.46h-9.72M1297.0 1583.46h9.72M144.0 1546.84h-9.72M1297.0 1546.84h9.72M144.0 1510.22h-9.72M1297.0 1510.22h9.72M144.0 1473.60h-9.72M1297.0 1473.60h9.72M144.0 1436.98h-9.72M1297.0 1436.98h9.72M144.0 1400.36h-9.72M1297.0 1400.36h9.72M144.0 1363.74h-9.72M1297.0 1363.74h9.72M144.0 1327.12h-9.72M1297.0 1327.12h9.72" stroke="#fff" stroke-width="2.22"/><path d="M240.08 1690v9.72M816.58 1690v9.72" stroke="#fff" stroke-width="2.22"/><path d="M384.21 1690v5.56M528.33 1690v5.56M672.46 1690v5.56M960.71 1690v5.56M1104.83 1690v5.56M1248.96 1690v5.56" stroke="#fff" stroke-width="1.67"/>
<g fill="#fff" style="font-family:'Liberation Sans',sans-serif;will-change:transform"><text x="108.89" y="450.25" font-size="29.44" textLength="16.57" lengthAdjust="spacingAndGlyphs">0</text><text x="1317.55" y="450.25" font-size="29.44" textLength="16.57" lengthAdjust="spacingAndGlyphs">0</text><text x="108.07" y="332.50" font-size="29.44" textLength="15.28" lengthAdjust="spacingAndGlyphs">5</text><text x="1317.65" y="332.50" font-size="29.44" textLength="15.28" lengthAdjust="spacingAndGlyphs">5</text><text x="89.18" y="214.75" font-size="29.44" textLength="35.38" lengthAdjust="spacingAndGlyphs">10</text><text x="1316.52" y="214.75" font-size="29.44" textLength="34.27" lengthAdjust="spacingAndGlyphs">10</text><text x="144.00" y="53.08" font-size="35.33" textLength="181.88" lengthAdjust="spacingAndGlyphs">MATC_AWS</text><text x="144.00" y="91.33" font-size="35.33" textLength="544.63" lengthAdjust="spacingAndGlyphs">Valid: 2025-11-11 to 2025-11-13</text><text x="1031.52" y="54.01" font-size="35.33" textLength="265.50" lengthAdjust="spacingAndGlyphs">43.233, -89.583</text><text x="1158.51" y="91.33" font-size="35.33" textLength="138.25" lengthAdjust="spacingAndGlyphs">262.1 m</text><text x="72.61" y="844.15" font-size="29.44" textLength="50.88" lengthAdjust="spacingAndGlyphs">975</text><text x="1317.51" y="844.15" font-size="29.44" textLength="50.88" lengthAdjust="spacingAndGlyphs">975</text><text x="72.49" y="755.95" font-size="29.44" textLength="51.00" lengthAdjust="spacingAndGlyphs">980</text><text x="1317.51" y="755.95" font-size="29.44" textLength="51.00" lengthAdjust="spacingAndGlyphs">980</text><text x="72.61" y="667.75" font-size="29.44" textLength="50.88" lengthAdjust="spacingAndGlyphs">985</text><text x="1317.51" y="667.75" font-size="29.44" textLength="50.88" lengthAdjust="spacingAndGlyphs">985</text><text x="72.37" y="579.55" font-size="29.44" textLength="51.12" lengthAdjust="spacingAndGlyphs">990</text><text x="1317.54" y="579.55" font-size="29.44" textLength="50.12" lengthAdjust="spacingAndGlyphs">990</text><text x="-68.81" y="701.25" font-size="34.67" textLength="237.61" lengthAdjust="spacingAndGlyphs" transform="rotate(-90 51.49 701.25)">Pressure (hPa)</text><text x="108.89" y="1283.05" font-size="29.44" textLength="16.57" lengthAdjust="spacingAndGlyphs">0</text><text x="1317.55" y="1283.05" font-size="29.44" textLength="16.57" lengthAdjust="spacingAndGlyphs">0</text><text x="108.07" y="1175.42" font-size="29.44" textLength="15.28" lengthAdjust="spacingAndGlyphs">5</text><text x="1317.65" y="1175.42" font-size="29.44" textLength="15.28" lengthAdjust="spacingAndGlyphs">5</text><text x="89.18" y="1067.79" font-size="29.44" textLength="35.38" lengthAdjust="spacingAndGlyphs">10</text><text x="1316.52" y="1067.79" font-size="29.44" textLength="34.27" lengthAdjust="spacingAndGlyphs">10</text><text x="90.38" y="960.15" font-size="29.44" textLength="33.08" lengthAdjust="spacingAndGlyphs">15</text><text x="1316.53" y="960.15" font-size="29.44" textLength="34.11" lengthAdjust="spacingAndGlyphs">15</text><text x="-16.71" y="1096.75" font-size="34.67" textLength="168.73" lengthAdjust="spacingAndGlyphs" transform="rotate(-90 69.16 1096.75)">Wind (kts)</text><text x="191.47" y="1730.55" font-size="29.44" textLength="98.25" lengthAdjust="spacingAndGlyphs">00 UTC</text><text x="191.93" y="1763.66" font-size="29.44" textLength="96.08" lengthAdjust="spacingAndGlyphs">12 Nov</text><text x="767.98" y="1730.55" font-size="29.44" textLength="98.23" lengthAdjust="spacingAndGlyphs">00 UTC</text><text x="768.40" y="1763.66" font-size="29.44" textLength="96.22" lengthAdjust="spacingAndGlyphs">13 Nov</text><text x="367.61" y="1726.11" font-size="29.44" textLength="33.23" lengthAdjust="spacingAndGlyphs">06</text><text x="511.78" y="1726.11" font-size="29.44" textLength="34.11" lengthAdjust="spacingAndGlyphs">12</text><text x="655.97" y="1726.11" font-size="29.44" textLength="33.05" lengthAdjust="spacingAndGlyphs">18</text><text x="945.08" y="1726.11" font-size="29.44" textLength="33.23" lengthAdjust="spacingAndGlyphs">06</text><text x="1088.32" y="1726.11" font-size="29.44" textLength="33.05" lengthAdjust="spacingAndGlyphs">12</text><text x="1232.37" y="1726.11" font-size="29.44" textLength="33.12" lengthAdjust="spacingAndGlyphs">18</text><text x="90.11" y="1667.25" font-size="29.44" textLength="33.35" lengthAdjust="spacingAndGlyphs">30</text><text x="1317.54" y="1667.25" font-size="29.44" textLength="33.35" lengthAdjust="spacingAndGlyphs">30</text><text x="90.32" y="1630.63" font-size="29.44" textLength="32.09" lengthAdjust="spacingAndGlyphs">35</text><text x="1317.54" y="1630.63" font-size="29.44" textLength="33.16" lengthAdjust="spacingAndGlyphs">35</text><text x="90.21" y="1594.01" font-size="29.44" textLength="34.30" lengthAdjust="spacingAndGlyphs">40</text><text x="1317.48" y="1594.01" font-size="29.44" textLength="33.29" lengthAdjust="spacingAndGlyphs">40</text><text x="90.35" y="1557.39" font-size="29.44" textLength="33.11" lengthAdjust="spacingAndGlyphs">45</text><text x="1317.48" y="1557.39" font-size="29.44" textLength="33.11" lengthAdjust="spacingAndGlyphs">45</text><text x="89.24" y="1520.76" font-size="29.44" textLength="34.27" lengthAdjust="spacingAndGlyphs">50</text><text x="1317.54" y="1520.76" font-size="29.44" textLength="33.23" lengthAdjust="spacingAndGlyphs">50</text><text x="89.41" y="1484.14" font-size="29.44" textLength="33.05" lengthAdjust="spacingAndGlyphs">55</text><text x="1317.54" y="1484.14" font-size="29.44" textLength="33.05" lengthAdjust="spacingAndGlyphs">55</text><text x="90.24" y="1447.52" font-size="29.44" textLength="34.27" lengthAdjust="spacingAndGlyphs">60</text><text x="1317.54" y="1447.52" font-size="29.44" textLength="33.23" lengthAdjust="spacingAndGlyphs">60</text><text x="90.41" y="1410.90" font-size="29.44" textLength="33.05" lengthAdjust="spacingAndGlyphs">65</text><text x="1317.54" y="1410.90" font-size="29.44" textLength="33.05" lengthAdjust="spacingAndGlyphs">65</text><text x="89.24" y="1374.28" font-size="29.44" textLength="34.27" lengthAdjust="spacingAndGlyphs">70</text><text x="1317.54" y="1374.28" font-size="29.44" textLength="33.23" lengthAdjust="spacingAndGlyphs">70</text><text x="90.41" y="1337.65" font-size="29.44" textLength="33.05" lengthAdjust="spacingAndGlyphs">75</text><text x="1317.54" y="1337.65" font-size="29.44" textLength="33.05" lengthAdjust="spacingAndGlyphs">75</text><text x="-114.78" y="1492.25" font-size="34.67" textLength="364.89" lengthAdjust="spacingAndGlyphs" transform="rotate(-90 69.16 1492.25)">Relative Humidity (%)</text><g transform="translate(71.10 457.08) rotate(-90)"><text x="0" y="-3.97" font-size="34.67" textLength="235.00" lengthAdjust="spacingAndGlyphs">Temperature (</text><text x="266.07" y="-3.97" font-size="34.67" textLength="36.25" lengthAdjust="spacingAndGlyphs">C)</text><circle cx="254.28" cy="-23.97" r="3.3" fill="none" stroke="#fff" stroke-width="1.7"/></g></g>
</svg></body></html>
